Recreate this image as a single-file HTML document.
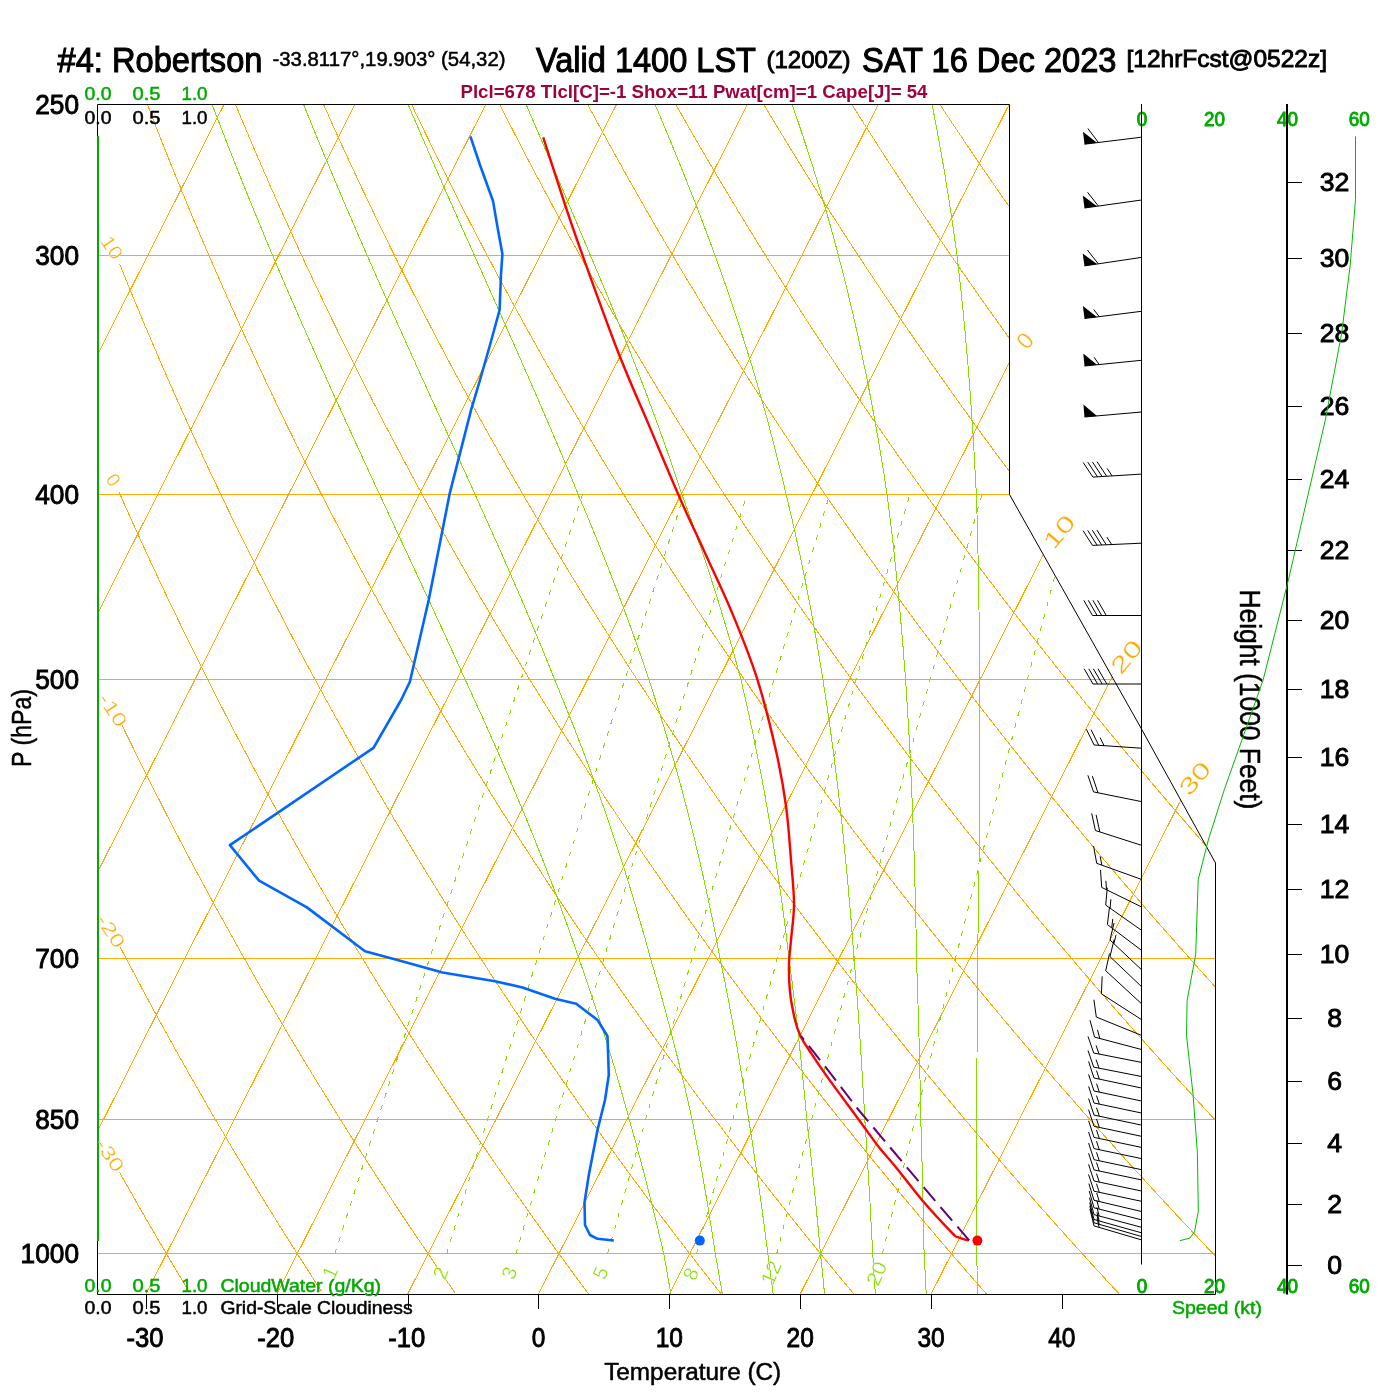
<!DOCTYPE html><html><head><meta charset="utf-8"><style>html,body{margin:0;padding:0;width:1400px;height:1400px;overflow:hidden;background:#fff}</style></head><body><svg width="1400" height="1400" viewBox="0 0 1400 1400" style="position:absolute;left:0;top:0;will-change:transform">
<defs><clipPath id="fc"><path d="M97.5 104.5 L1009.5 104.5 L1009.5 494.5 L1141.5 729 L1215.5 863 L1215.5 1294.5 L97.5 1294.5Z"/></clipPath></defs>
<rect width="1400" height="1400" fill="#fff"/>
<g clip-path="url(#fc)" fill="none" shape-rendering="crispEdges" stroke-width="1">
<path d="M97 255.5 H1300" stroke="#ffaa00"/>
<path d="M97 494.5 H1300" stroke="#ffaa00"/>
<path d="M97 679.5 H1300" stroke="#ffaa00"/>
<path d="M97 958.5 H1300" stroke="#ffaa00"/>
<path d="M97 1119.5 H1300" stroke="#ffaa00"/>
<path d="M97 1253.5 H1300" stroke="#ffaa00"/>
<path d="M-377.5 1294.5 L224 104.5 M-246.7 1294.5 L354.9 104.5 M-115.9 1294.5 L485.7 104.5 M15 1294.5 L616.5 104.5 M145.8 1294.5 L747.4 104.5 M276.7 1294.5 L878.2 104.5 M407.5 1294.5 L1009.1 104.5 M538.3 1294.5 L1139.9 104.5 M669.2 1294.5 L1270.7 104.5 M800 1294.5 L1401.6 104.5 M930.9 1294.5 L1532.4 104.5" stroke="#ffaa00"/>
<path d="M119.3 1171.9 L121.9 1176.5 L124.5 1181 L127 1185.5 L129.5 1190 L132.1 1194.5 L134.6 1198.9 L137.1 1203.3 L139.6 1207.7 L142.2 1212.1 L144.7 1216.4 L147.2 1220.8 L149.6 1225.1 L152.1 1229.3 L154.6 1233.6 L157.1 1237.8 L159.6 1242.1 L162 1246.2 L164.5 1250.4 L166.9 1254.6 L169.4 1258.7 L171.8 1262.8 L174.2 1266.9 L176.7 1271 L179.1 1275 L181.5 1279.1 L183.9 1283.1 L186.3 1287.1 L188.7 1291 M120.3 947.3 L123.4 953.2 L126.5 959.2 L129.6 965.1 L132.7 970.9 L135.8 976.7 L138.9 982.5 L141.9 988.2 L145 993.9 L148 999.6 L151.1 1005.2 L154.1 1010.8 L157.1 1016.3 L160.1 1021.8 L163.1 1027.3 L166.1 1032.7 L169.1 1038.1 L172.1 1043.5 L175 1048.8 L178 1054.1 L180.9 1059.3 L183.9 1064.6 L186.8 1069.7 L189.7 1074.9 L192.7 1080 L195.6 1085.1 L198.5 1090.2 L201.4 1095.2 L204.2 1100.2 L207.1 1105.2 L210 1110.2 L212.8 1115.1 L215.7 1120 L218.5 1124.8 L221.4 1129.6 L224.2 1134.4 L227 1139.2 L229.8 1144 L232.6 1148.7 L235.4 1153.4 L238.2 1158 L241 1162.7 L243.8 1167.3 L246.5 1171.9 L249.3 1176.5 L252.1 1181 L254.8 1185.5 L257.5 1190 L260.3 1194.5 L263 1198.9 L265.7 1203.3 L268.4 1207.7 L271.1 1212.1 L273.8 1216.4 L276.5 1220.8 L279.2 1225.1 L281.9 1229.3 L284.5 1233.6 L287.2 1237.8 L289.9 1242.1 L292.5 1246.2 L295.2 1250.4 L297.8 1254.6 L300.4 1258.7 L303.1 1262.8 L305.7 1266.9 L308.3 1271 L310.9 1275 L313.5 1279.1 L316.1 1283.1 L318.7 1287.1 L321.3 1291 M121.6 724.2 L125.3 732 L129.1 739.7 L132.9 747.4 L136.6 755 L140.3 762.5 L144 770 L147.7 777.4 L151.4 784.7 L155.1 792 L158.8 799.2 L162.4 806.3 L166 813.4 L169.6 820.4 L173.2 827.4 L176.8 834.3 L180.4 841.1 L184 847.9 L187.5 854.7 L191.1 861.4 L194.6 868 L198.1 874.6 L201.6 881.1 L205.1 887.6 L208.6 894 L212 900.4 L215.5 906.7 L218.9 913 L222.4 919.2 L225.8 925.4 L229.2 931.5 L232.6 937.6 L236 943.7 L239.3 949.7 L242.7 955.6 L246.1 961.5 L249.4 967.4 L252.7 973.2 L256 979 L259.3 984.8 L262.6 990.5 L265.9 996.2 L269.2 1001.8 L272.5 1007.4 L275.7 1013 L279 1018.5 L282.2 1024 L285.4 1029.4 L288.6 1034.9 L291.9 1040.2 L295 1045.6 L298.2 1050.9 L301.4 1056.2 L304.6 1061.4 L307.7 1066.6 L310.9 1071.8 L314 1077 L317.1 1082.1 L320.3 1087.2 L323.4 1092.2 L326.5 1097.2 L329.6 1102.2 L332.7 1107.2 L335.7 1112.1 L338.8 1117 L341.9 1121.9 L344.9 1126.8 L347.9 1131.6 L351 1136.4 L354 1141.1 L357 1145.9 L360 1150.6 L363 1155.2 L366 1159.9 L369 1164.5 L372 1169.1 L374.9 1173.7 L377.9 1178.3 L380.8 1182.8 L383.8 1187.3 L386.7 1191.8 L389.6 1196.2 L392.6 1200.7 L395.5 1205.1 L398.4 1209.5 L401.3 1213.8 L404.1 1218.2 L407 1222.5 L409.9 1226.8 L412.8 1231 L415.6 1235.3 L418.5 1239.5 L421.3 1243.7 L424.2 1247.9 L427 1252.1 L429.8 1256.2 L432.6 1260.4 L435.4 1264.5 L438.2 1268.5 L441 1272.6 L443.8 1276.6 L446.6 1280.7 L449.4 1284.7 L452.1 1288.7 L454.9 1292.6 M119 491.9 L119.9 494 L124.4 504.3 L129 514.4 L133.5 524.5 L138 534.4 L142.5 544.2 L147 553.9 L151.4 563.5 L155.9 573 L160.3 582.4 L164.6 591.6 L169 600.8 L173.4 609.8 L177.7 618.8 L182 627.7 L186.3 636.5 L190.5 645.1 L194.8 653.7 L199 662.2 L203.2 670.7 L207.4 679 L211.6 687.2 L215.8 695.4 L219.9 703.5 L224 711.5 L228.1 719.4 L232.2 727.3 L236.3 735.1 L240.3 742.8 L244.4 750.4 L248.4 758 L252.4 765.5 L256.4 773 L260.4 780.3 L264.3 787.6 L268.3 794.9 L272.2 802.1 L276.1 809.2 L280 816.2 L283.9 823.2 L287.8 830.2 L291.6 837 L295.5 843.9 L299.3 850.6 L303.1 857.4 L306.9 864 L310.7 870.6 L314.4 877.2 L318.2 883.7 L321.9 890.1 L325.7 896.5 L329.4 902.9 L333.1 909.2 L336.8 915.5 L340.4 921.7 L344.1 927.8 L347.7 934 L351.4 940 L355 946.1 L358.6 952 L362.2 958 L365.8 963.9 L369.4 969.8 L372.9 975.6 L376.5 981.3 L380 987.1 L383.5 992.8 L387.1 998.4 L390.6 1004.1 L394.1 1009.7 L397.5 1015.2 L401 1020.7 L404.5 1026.2 L407.9 1031.6 L411.4 1037 L414.8 1042.4 L418.2 1047.7 L421.6 1053 L425 1058.3 L428.4 1063.5 L431.8 1068.7 L435.1 1073.9 L438.5 1079 L441.8 1084.1 L445.1 1089.2 L448.5 1094.2 L451.8 1099.2 L455.1 1104.2 L458.4 1109.2 L461.7 1114.1 L464.9 1119 L468.2 1123.8 L471.4 1128.7 L474.7 1133.5 L477.9 1138.3 L481.1 1143 L484.4 1147.7 L487.6 1152.4 L490.8 1157.1 L494 1161.8 L497.1 1166.4 L500.3 1171 L503.5 1175.5 L506.6 1180.1 L509.8 1184.6 L512.9 1189.1 L516 1193.6 L519.2 1198 L522.3 1202.4 L525.4 1206.8 L528.5 1211.2 L531.5 1215.6 L534.6 1219.9 L537.7 1224.2 L540.8 1228.5 L543.8 1232.7 L546.9 1237 L549.9 1241.2 L552.9 1245.4 L555.9 1249.6 L559 1253.7 L562 1257.9 L565 1262 L567.9 1266.1 L570.9 1270.2 L573.9 1274.2 L576.9 1278.3 L579.8 1282.3 L582.8 1286.3 L585.7 1290.2 L588.7 1294.2 M119.5 263.7 L120.6 266.4 L121.7 269.1 L122.8 271.8 L123.9 274.5 L125 277.2 L126.1 279.9 L127.1 282.6 L128.2 285.3 L129.3 287.9 L130.4 290.6 L131.5 293.2 L132.6 295.9 L133.7 298.5 L134.8 301.1 L135.8 303.7 L136.9 306.3 L138 308.9 L139.1 311.5 L140.2 314.1 L141.2 316.7 L142.3 319.2 L143.4 321.8 L144.4 324.3 L145.5 326.9 L146.6 329.4 L147.7 331.9 L148.7 334.4 L149.8 336.9 L150.9 339.5 L151.9 341.9 L153 344.4 L154 346.9 L155.1 349.4 L156.2 351.8 L157.2 354.3 L158.3 356.8 L159.3 359.2 L160.4 361.6 L161.4 364.1 L162.5 366.5 L163.5 368.9 L164.6 371.3 L165.6 373.7 L166.7 376.1 L167.7 378.5 L168.8 380.9 L169.8 383.2 L170.9 385.6 L171.9 388 L172.9 390.3 L174 392.7 L175 395 L176.1 397.3 L177.1 399.7 L178.1 402 L179.2 404.3 L180.2 406.6 L181.2 408.9 L182.2 411.2 L183.3 413.5 L184.3 415.8 L185.3 418 L186.4 420.3 L187.4 422.6 L188.4 424.8 L189.4 427.1 L190.4 429.3 L191.5 431.5 L192.5 433.8 L193.5 436 L194.5 438.2 L195.5 440.4 L196.5 442.6 L197.6 444.9 L198.6 447 L199.6 449.2 L200.6 451.4 L201.6 453.6 L202.6 455.8 L203.6 457.9 L204.6 460.1 L205.6 462.3 L206.6 464.4 L207.6 466.6 L208.6 468.7 L209.6 470.8 L210.6 473 L211.6 475.1 L212.6 477.2 L213.6 479.3 L214.6 481.4 L215.6 483.5 L216.6 485.6 L217.6 487.7 L218.6 489.8 L219.6 491.9 L220.6 494 L225.5 504.3 L230.4 514.4 L235.3 524.5 L240.2 534.4 L245 544.2 L249.8 553.9 L254.6 563.5 L259.3 573 L264.1 582.4 L268.8 591.6 L273.5 600.8 L278.2 609.8 L282.8 618.8 L287.4 627.7 L292 636.5 L296.6 645.1 L301.2 653.7 L305.7 662.2 L310.2 670.7 L314.8 679 L319.2 687.2 L323.7 695.4 L328.1 703.5 L332.6 711.5 L337 719.4 L341.3 727.3 L345.7 735.1 L350.1 742.8 L354.4 750.4 L358.7 758 L363 765.5 L367.3 773 L371.5 780.3 L375.8 787.6 L380 794.9 L384.2 802.1 L388.4 809.2 L392.5 816.2 L396.7 823.2 L400.8 830.2 L405 837 L409.1 843.9 L413.1 850.6 L417.2 857.4 L421.3 864 L425.3 870.6 L429.3 877.2 L433.4 883.7 L437.4 890.1 L441.3 896.5 L445.3 902.9 L449.3 909.2 L453.2 915.5 L457.1 921.7 L461 927.8 L464.9 934 L468.8 940 L472.7 946.1 L476.5 952 L480.4 958 L484.2 963.9 L488 969.8 L491.8 975.6 L495.6 981.3 L499.4 987.1 L503.1 992.8 L506.9 998.4 L510.6 1004.1 L514.3 1009.7 L518.1 1015.2 L521.8 1020.7 L525.4 1026.2 L529.1 1031.6 L532.8 1037 L536.4 1042.4 L540.1 1047.7 L543.7 1053 L547.3 1058.3 L550.9 1063.5 L554.5 1068.7 L558.1 1073.9 L561.7 1079 L565.2 1084.1 L568.8 1089.2 L572.3 1094.2 L575.8 1099.2 L579.3 1104.2 L582.9 1109.2 L586.3 1114.1 L589.8 1119 L593.3 1123.8 L596.8 1128.7 L600.2 1133.5 L603.7 1138.3 L607.1 1143 L610.5 1147.7 L613.9 1152.4 L617.3 1157.1 L620.7 1161.8 L624.1 1166.4 L627.5 1171 L630.8 1175.5 L634.2 1180.1 L637.5 1184.6 L640.9 1189.1 L644.2 1193.6 L647.5 1198 L650.8 1202.4 L654.1 1206.8 L657.4 1211.2 L660.7 1215.6 L663.9 1219.9 L667.2 1224.2 L670.5 1228.5 L673.7 1232.7 L676.9 1237 L680.2 1241.2 L683.4 1245.4 L686.6 1249.6 L689.8 1253.7 L693 1257.9 L696.2 1262 L699.3 1266.1 L702.5 1270.2 L705.7 1274.2 L708.8 1278.3 L712 1282.3 L715.1 1286.3 L718.2 1290.2 L721.3 1294.2 M147.3 104.2 L148.6 107.5 L149.9 110.8 L151.1 114.1 L152.4 117.4 L153.7 120.6 L154.9 123.9 L156.2 127.1 L157.5 130.3 L158.7 133.6 L160 136.7 L161.2 139.9 L162.5 143.1 L163.7 146.3 L165 149.4 L166.2 152.5 L167.5 155.7 L168.7 158.8 L170 161.9 L171.2 165 L172.5 168 L173.7 171.1 L174.9 174.2 L176.2 177.2 L177.4 180.2 L178.6 183.3 L179.9 186.3 L181.1 189.3 L182.3 192.3 L183.6 195.2 L184.8 198.2 L186 201.2 L187.2 204.1 L188.4 207 L189.7 210 L190.9 212.9 L192.1 215.8 L193.3 218.7 L194.5 221.6 L195.7 224.4 L196.9 227.3 L198.1 230.2 L199.3 233 L200.5 235.8 L201.8 238.7 L203 241.5 L204.2 244.3 L205.3 247.1 L206.5 249.9 L207.7 252.6 L208.9 255.4 L210.1 258.2 L211.3 260.9 L212.5 263.7 L213.7 266.4 L214.9 269.1 L216.1 271.8 L217.2 274.5 L218.4 277.2 L219.6 279.9 L220.8 282.6 L222 285.3 L223.1 287.9 L224.3 290.6 L225.5 293.2 L226.7 295.9 L227.8 298.5 L229 301.1 L230.2 303.7 L231.3 306.3 L232.5 308.9 L233.6 311.5 L234.8 314.1 L236 316.7 L237.1 319.2 L238.3 321.8 L239.4 324.3 L240.6 326.9 L241.7 329.4 L242.9 331.9 L244 334.4 L245.2 336.9 L246.3 339.5 L247.5 341.9 L248.6 344.4 L249.8 346.9 L250.9 349.4 L252.1 351.8 L253.2 354.3 L254.3 356.8 L255.5 359.2 L256.6 361.6 L257.7 364.1 L258.9 366.5 L260 368.9 L261.1 371.3 L262.3 373.7 L263.4 376.1 L264.5 378.5 L265.6 380.9 L266.8 383.2 L267.9 385.6 L269 388 L270.1 390.3 L271.2 392.7 L272.3 395 L273.5 397.3 L274.6 399.7 L275.7 402 L276.8 404.3 L277.9 406.6 L279 408.9 L280.1 411.2 L281.2 413.5 L282.3 415.8 L283.4 418 L284.5 420.3 L285.6 422.6 L286.7 424.8 L287.8 427.1 L288.9 429.3 L290 431.5 L291.1 433.8 L292.2 436 L293.3 438.2 L294.4 440.4 L295.5 442.6 L296.6 444.9 L297.7 447 L298.8 449.2 L299.8 451.4 L300.9 453.6 L302 455.8 L303.1 457.9 L304.2 460.1 L305.2 462.3 L306.3 464.4 L307.4 466.6 L308.5 468.7 L309.5 470.8 L310.6 473 L311.7 475.1 L312.8 477.2 L313.8 479.3 L314.9 481.4 L316 483.5 L317 485.6 L318.1 487.7 L319.2 489.8 L320.2 491.9 L321.3 494 L326.6 504.3 L331.8 514.4 L337.1 524.5 L342.3 534.4 L347.4 544.2 L352.6 553.9 L357.7 563.5 L362.8 573 L367.9 582.4 L372.9 591.6 L378 600.8 L383 609.8 L387.9 618.8 L392.9 627.7 L397.8 636.5 L402.7 645.1 L407.6 653.7 L412.4 662.2 L417.3 670.7 L422.1 679 L426.9 687.2 L431.6 695.4 L436.4 703.5 L441.1 711.5 L445.8 719.4 L450.5 727.3 L455.1 735.1 L459.8 742.8 L464.4 750.4 L469 758 L473.6 765.5 L478.1 773 L482.7 780.3 L487.2 787.6 L491.7 794.9 L496.2 802.1 L500.6 809.2 L505.1 816.2 L509.5 823.2 L513.9 830.2 L518.3 837 L522.7 843.9 L527 850.6 L531.4 857.4 L535.7 864 L540 870.6 L544.3 877.2 L548.5 883.7 L552.8 890.1 L557 896.5 L561.3 902.9 L565.5 909.2 L569.6 915.5 L573.8 921.7 L578 927.8 L582.1 934 L586.2 940 L590.4 946.1 L594.5 952 L598.5 958 L602.6 963.9 L606.7 969.8 L610.7 975.6 L614.7 981.3 L618.7 987.1 L622.7 992.8 L626.7 998.4 L630.7 1004.1 L634.6 1009.7 L638.6 1015.2 L642.5 1020.7 L646.4 1026.2 L650.3 1031.6 L654.2 1037 L658.1 1042.4 L661.9 1047.7 L665.8 1053 L669.6 1058.3 L673.5 1063.5 L677.3 1068.7 L681.1 1073.9 L684.9 1079 L688.6 1084.1 L692.4 1089.2 L696.1 1094.2 L699.9 1099.2 L703.6 1104.2 L707.3 1109.2 L711 1114.1 L714.7 1119 L718.4 1123.8 L722.1 1128.7 L725.7 1133.5 L729.4 1138.3 L733 1143 L736.7 1147.7 L740.3 1152.4 L743.9 1157.1 L747.5 1161.8 L751.1 1166.4 L754.6 1171 L758.2 1175.5 L761.7 1180.1 L765.3 1184.6 L768.8 1189.1 L772.3 1193.6 L775.9 1198 L779.4 1202.4 L782.9 1206.8 L786.3 1211.2 L789.8 1215.6 L793.3 1219.9 L796.7 1224.2 L800.2 1228.5 L803.6 1232.7 L807 1237 L810.4 1241.2 L813.8 1245.4 L817.2 1249.6 L820.6 1253.7 L824 1257.9 L827.4 1262 L830.7 1266.1 L834.1 1270.2 L837.4 1274.2 L840.8 1278.3 L844.1 1282.3 L847.4 1286.3 L850.7 1290.2 L854 1294.2 M235.4 104.2 L236.8 107.5 L238.1 110.8 L239.5 114.1 L240.9 117.4 L242.2 120.6 L243.6 123.9 L245 127.1 L246.3 130.3 L247.7 133.6 L249 136.7 L250.4 139.9 L251.7 143.1 L253.1 146.3 L254.4 149.4 L255.8 152.5 L257.1 155.7 L258.5 158.8 L259.8 161.9 L261.1 165 L262.5 168 L263.8 171.1 L265.1 174.2 L266.5 177.2 L267.8 180.2 L269.1 183.3 L270.4 186.3 L271.8 189.3 L273.1 192.3 L274.4 195.2 L275.7 198.2 L277 201.2 L278.4 204.1 L279.7 207 L281 210 L282.3 212.9 L283.6 215.8 L284.9 218.7 L286.2 221.6 L287.5 224.4 L288.8 227.3 L290.1 230.2 L291.4 233 L292.7 235.8 L294 238.7 L295.3 241.5 L296.6 244.3 L297.8 247.1 L299.1 249.9 L300.4 252.6 L301.7 255.4 L303 258.2 L304.2 260.9 L305.5 263.7 L306.8 266.4 L308.1 269.1 L309.3 271.8 L310.6 274.5 L311.9 277.2 L313.1 279.9 L314.4 282.6 L315.7 285.3 L316.9 287.9 L318.2 290.6 L319.5 293.2 L320.7 295.9 L322 298.5 L323.2 301.1 L324.5 303.7 L325.7 306.3 L327 308.9 L328.2 311.5 L329.5 314.1 L330.7 316.7 L331.9 319.2 L333.2 321.8 L334.4 324.3 L335.7 326.9 L336.9 329.4 L338.1 331.9 L339.4 334.4 L340.6 336.9 L341.8 339.5 L343.1 341.9 L344.3 344.4 L345.5 346.9 L346.7 349.4 L347.9 351.8 L349.2 354.3 L350.4 356.8 L351.6 359.2 L352.8 361.6 L354 364.1 L355.2 366.5 L356.5 368.9 L357.7 371.3 L358.9 373.7 L360.1 376.1 L361.3 378.5 L362.5 380.9 L363.7 383.2 L364.9 385.6 L366.1 388 L367.3 390.3 L368.5 392.7 L369.7 395 L370.9 397.3 L372.1 399.7 L373.2 402 L374.4 404.3 L375.6 406.6 L376.8 408.9 L378 411.2 L379.2 413.5 L380.4 415.8 L381.5 418 L382.7 420.3 L383.9 422.6 L385.1 424.8 L386.2 427.1 L387.4 429.3 L388.6 431.5 L389.8 433.8 L390.9 436 L392.1 438.2 L393.3 440.4 L394.4 442.6 L395.6 444.9 L396.8 447 L397.9 449.2 L399.1 451.4 L400.2 453.6 L401.4 455.8 L402.5 457.9 L403.7 460.1 L404.9 462.3 L406 464.4 L407.2 466.6 L408.3 468.7 L409.5 470.8 L410.6 473 L411.7 475.1 L412.9 477.2 L414 479.3 L415.2 481.4 L416.3 483.5 L417.4 485.6 L418.6 487.7 L419.7 489.8 L420.9 491.9 L422 494 L427.6 504.3 L433.3 514.4 L438.8 524.5 L444.4 534.4 L449.9 544.2 L455.4 553.9 L460.9 563.5 L466.3 573 L471.7 582.4 L477.1 591.6 L482.4 600.8 L487.8 609.8 L493.1 618.8 L498.3 627.7 L503.6 636.5 L508.8 645.1 L514 653.7 L519.2 662.2 L524.3 670.7 L529.4 679 L534.5 687.2 L539.6 695.4 L544.6 703.5 L549.6 711.5 L554.6 719.4 L559.6 727.3 L564.6 735.1 L569.5 742.8 L574.4 750.4 L579.3 758 L584.2 765.5 L589 773 L593.8 780.3 L598.6 787.6 L603.4 794.9 L608.1 802.1 L612.9 809.2 L617.6 816.2 L622.3 823.2 L627 830.2 L631.6 837 L636.3 843.9 L640.9 850.6 L645.5 857.4 L650.1 864 L654.6 870.6 L659.2 877.2 L663.7 883.7 L668.2 890.1 L672.7 896.5 L677.2 902.9 L681.6 909.2 L686.1 915.5 L690.5 921.7 L694.9 927.8 L699.3 934 L703.7 940 L708 946.1 L712.4 952 L716.7 958 L721 963.9 L725.3 969.8 L729.6 975.6 L733.8 981.3 L738.1 987.1 L742.3 992.8 L746.5 998.4 L750.7 1004.1 L754.9 1009.7 L759.1 1015.2 L763.2 1020.7 L767.4 1026.2 L771.5 1031.6 L775.6 1037 L779.7 1042.4 L783.8 1047.7 L787.9 1053 L792 1058.3 L796 1063.5 L800 1068.7 L804 1073.9 L808.1 1079 L812 1084.1 L816 1089.2 L820 1094.2 L823.9 1099.2 L827.9 1104.2 L831.8 1109.2 L835.7 1114.1 L839.6 1119 L843.5 1123.8 L847.4 1128.7 L851.3 1133.5 L855.1 1138.3 L859 1143 L862.8 1147.7 L866.6 1152.4 L870.4 1157.1 L874.2 1161.8 L878 1166.4 L881.8 1171 L885.6 1175.5 L889.3 1180.1 L893 1184.6 L896.8 1189.1 L900.5 1193.6 L904.2 1198 L907.9 1202.4 L911.6 1206.8 L915.3 1211.2 L918.9 1215.6 L922.6 1219.9 L926.2 1224.2 L929.9 1228.5 L933.5 1232.7 L937.1 1237 L940.7 1241.2 L944.3 1245.4 L947.9 1249.6 L951.5 1253.7 L955 1257.9 L958.6 1262 L962.1 1266.1 L965.7 1270.2 L969.2 1274.2 L972.7 1278.3 L976.2 1282.3 L979.7 1286.3 L983.2 1290.2 L986.7 1294.2 M323.4 104.2 L324.9 107.5 L326.4 110.8 L327.9 114.1 L329.3 117.4 L330.8 120.6 L332.2 123.9 L333.7 127.1 L335.2 130.3 L336.6 133.6 L338.1 136.7 L339.5 139.9 L341 143.1 L342.4 146.3 L343.9 149.4 L345.3 152.5 L346.7 155.7 L348.2 158.8 L349.6 161.9 L351 165 L352.5 168 L353.9 171.1 L355.3 174.2 L356.8 177.2 L358.2 180.2 L359.6 183.3 L361 186.3 L362.4 189.3 L363.9 192.3 L365.3 195.2 L366.7 198.2 L368.1 201.2 L369.5 204.1 L370.9 207 L372.3 210 L373.7 212.9 L375.1 215.8 L376.5 218.7 L377.9 221.6 L379.3 224.4 L380.7 227.3 L382 230.2 L383.4 233 L384.8 235.8 L386.2 238.7 L387.6 241.5 L389 244.3 L390.3 247.1 L391.7 249.9 L393.1 252.6 L394.4 255.4 L395.8 258.2 L397.2 260.9 L398.5 263.7 L399.9 266.4 L401.3 269.1 L402.6 271.8 L404 274.5 L405.3 277.2 L406.7 279.9 L408 282.6 L409.4 285.3 L410.7 287.9 L412.1 290.6 L413.4 293.2 L414.8 295.9 L416.1 298.5 L417.4 301.1 L418.8 303.7 L420.1 306.3 L421.5 308.9 L422.8 311.5 L424.1 314.1 L425.4 316.7 L426.8 319.2 L428.1 321.8 L429.4 324.3 L430.7 326.9 L432.1 329.4 L433.4 331.9 L434.7 334.4 L436 336.9 L437.3 339.5 L438.6 341.9 L439.9 344.4 L441.2 346.9 L442.5 349.4 L443.8 351.8 L445.1 354.3 L446.4 356.8 L447.7 359.2 L449 361.6 L450.3 364.1 L451.6 366.5 L452.9 368.9 L454.2 371.3 L455.5 373.7 L456.8 376.1 L458.1 378.5 L459.3 380.9 L460.6 383.2 L461.9 385.6 L463.2 388 L464.5 390.3 L465.7 392.7 L467 395 L468.3 397.3 L469.5 399.7 L470.8 402 L472.1 404.3 L473.3 406.6 L474.6 408.9 L475.9 411.2 L477.1 413.5 L478.4 415.8 L479.6 418 L480.9 420.3 L482.2 422.6 L483.4 424.8 L484.7 427.1 L485.9 429.3 L487.2 431.5 L488.4 433.8 L489.6 436 L490.9 438.2 L492.1 440.4 L493.4 442.6 L494.6 444.9 L495.8 447 L497.1 449.2 L498.3 451.4 L499.5 453.6 L500.8 455.8 L502 457.9 L503.2 460.1 L504.5 462.3 L505.7 464.4 L506.9 466.6 L508.1 468.7 L509.4 470.8 L510.6 473 L511.8 475.1 L513 477.2 L514.2 479.3 L515.4 481.4 L516.7 483.5 L517.9 485.6 L519.1 487.7 L520.3 489.8 L521.5 491.9 L522.7 494 L528.7 504.3 L534.7 514.4 L540.6 524.5 L546.5 534.4 L552.4 544.2 L558.2 553.9 L564 563.5 L569.8 573 L575.5 582.4 L581.2 591.6 L586.9 600.8 L592.6 609.8 L598.2 618.8 L603.8 627.7 L609.4 636.5 L614.9 645.1 L620.4 653.7 L625.9 662.2 L631.3 670.7 L636.8 679 L642.2 687.2 L647.5 695.4 L652.9 703.5 L658.2 711.5 L663.5 719.4 L668.8 727.3 L674 735.1 L679.2 742.8 L684.4 750.4 L689.6 758 L694.7 765.5 L699.9 773 L705 780.3 L710 787.6 L715.1 794.9 L720.1 802.1 L725.1 809.2 L730.1 816.2 L735.1 823.2 L740.1 830.2 L745 837 L749.9 843.9 L754.8 850.6 L759.6 857.4 L764.5 864 L769.3 870.6 L774.1 877.2 L778.9 883.7 L783.7 890.1 L788.4 896.5 L793.1 902.9 L797.8 909.2 L802.5 915.5 L807.2 921.7 L811.9 927.8 L816.5 934 L821.1 940 L825.7 946.1 L830.3 952 L834.9 958 L839.4 963.9 L843.9 969.8 L848.5 975.6 L853 981.3 L857.4 987.1 L861.9 992.8 L866.4 998.4 L870.8 1004.1 L875.2 1009.7 L879.6 1015.2 L884 1020.7 L888.4 1026.2 L892.7 1031.6 L897.1 1037 L901.4 1042.4 L905.7 1047.7 L910 1053 L914.3 1058.3 L918.5 1063.5 L922.8 1068.7 L927 1073.9 L931.2 1079 L935.5 1084.1 L939.7 1089.2 L943.8 1094.2 L948 1099.2 L952.2 1104.2 L956.3 1109.2 L960.4 1114.1 L964.5 1119 L968.6 1123.8 L972.7 1128.7 L976.8 1133.5 L980.9 1138.3 L984.9 1143 L989 1147.7 L993 1152.4 L997 1157.1 L1001 1161.8 L1005 1166.4 L1009 1171 L1012.9 1175.5 L1016.9 1180.1 L1020.8 1184.6 L1024.7 1189.1 L1028.7 1193.6 L1032.6 1198 L1036.5 1202.4 L1040.3 1206.8 L1044.2 1211.2 L1048.1 1215.6 L1051.9 1219.9 L1055.8 1224.2 L1059.6 1228.5 L1063.4 1232.7 L1067.2 1237 L1071 1241.2 L1074.8 1245.4 L1078.5 1249.6 L1082.3 1253.7 L1086.1 1257.9 L1089.8 1262 L1093.5 1266.1 L1097.3 1270.2 L1101 1274.2 L1104.7 1278.3 L1108.4 1282.3 L1112 1286.3 L1115.7 1290.2 L1119.4 1294.2 M411.5 104.2 L413.1 107.5 L414.6 110.8 L416.2 114.1 L417.8 117.4 L419.3 120.6 L420.9 123.9 L422.5 127.1 L424 130.3 L425.6 133.6 L427.1 136.7 L428.7 139.9 L430.2 143.1 L431.7 146.3 L433.3 149.4 L434.8 152.5 L436.4 155.7 L437.9 158.8 L439.4 161.9 L441 165 L442.5 168 L444 171.1 L445.5 174.2 L447.1 177.2 L448.6 180.2 L450.1 183.3 L451.6 186.3 L453.1 189.3 L454.6 192.3 L456.1 195.2 L457.6 198.2 L459.1 201.2 L460.6 204.1 L462.1 207 L463.6 210 L465.1 212.9 L466.6 215.8 L468.1 218.7 L469.6 221.6 L471 224.4 L472.5 227.3 L474 230.2 L475.5 233 L477 235.8 L478.4 238.7 L479.9 241.5 L481.4 244.3 L482.8 247.1 L484.3 249.9 L485.7 252.6 L487.2 255.4 L488.7 258.2 L490.1 260.9 L491.6 263.7 L493 266.4 L494.5 269.1 L495.9 271.8 L497.4 274.5 L498.8 277.2 L500.2 279.9 L501.7 282.6 L503.1 285.3 L504.5 287.9 L506 290.6 L507.4 293.2 L508.8 295.9 L510.3 298.5 L511.7 301.1 L513.1 303.7 L514.5 306.3 L515.9 308.9 L517.4 311.5 L518.8 314.1 L520.2 316.7 L521.6 319.2 L523 321.8 L524.4 324.3 L525.8 326.9 L527.2 329.4 L528.6 331.9 L530 334.4 L531.4 336.9 L532.8 339.5 L534.2 341.9 L535.6 344.4 L537 346.9 L538.3 349.4 L539.7 351.8 L541.1 354.3 L542.5 356.8 L543.9 359.2 L545.2 361.6 L546.6 364.1 L548 366.5 L549.4 368.9 L550.7 371.3 L552.1 373.7 L553.5 376.1 L554.8 378.5 L556.2 380.9 L557.6 383.2 L558.9 385.6 L560.3 388 L561.6 390.3 L563 392.7 L564.3 395 L565.7 397.3 L567 399.7 L568.4 402 L569.7 404.3 L571.1 406.6 L572.4 408.9 L573.7 411.2 L575.1 413.5 L576.4 415.8 L577.7 418 L579.1 420.3 L580.4 422.6 L581.7 424.8 L583.1 427.1 L584.4 429.3 L585.7 431.5 L587 433.8 L588.4 436 L589.7 438.2 L591 440.4 L592.3 442.6 L593.6 444.9 L594.9 447 L596.2 449.2 L597.6 451.4 L598.9 453.6 L600.2 455.8 L601.5 457.9 L602.8 460.1 L604.1 462.3 L605.4 464.4 L606.7 466.6 L608 468.7 L609.3 470.8 L610.6 473 L611.8 475.1 L613.1 477.2 L614.4 479.3 L615.7 481.4 L617 483.5 L618.3 485.6 L619.6 487.7 L620.8 489.8 L622.1 491.9 L623.4 494 L629.8 504.3 L636.1 514.4 L642.4 524.5 L648.6 534.4 L654.8 544.2 L661 553.9 L667.2 563.5 L673.3 573 L679.4 582.4 L685.4 591.6 L691.4 600.8 L697.4 609.8 L703.3 618.8 L709.2 627.7 L715.1 636.5 L721 645.1 L726.8 653.7 L732.6 662.2 L738.4 670.7 L744.1 679 L749.8 687.2 L755.5 695.4 L761.1 703.5 L766.7 711.5 L772.3 719.4 L777.9 727.3 L783.4 735.1 L788.9 742.8 L794.4 750.4 L799.9 758 L805.3 765.5 L810.7 773 L816.1 780.3 L821.5 787.6 L826.8 794.9 L832.1 802.1 L837.4 809.2 L842.7 816.2 L847.9 823.2 L853.1 830.2 L858.3 837 L863.5 843.9 L868.6 850.6 L873.8 857.4 L878.9 864 L884 870.6 L889 877.2 L894.1 883.7 L899.1 890.1 L904.1 896.5 L909.1 902.9 L914 909.2 L919 915.5 L923.9 921.7 L928.8 927.8 L933.7 934 L938.6 940 L943.4 946.1 L948.2 952 L953 958 L957.8 963.9 L962.6 969.8 L967.3 975.6 L972.1 981.3 L976.8 987.1 L981.5 992.8 L986.2 998.4 L990.8 1004.1 L995.5 1009.7 L1000.1 1015.2 L1004.7 1020.7 L1009.3 1026.2 L1013.9 1031.6 L1018.5 1037 L1023 1042.4 L1027.6 1047.7 L1032.1 1053 L1036.6 1058.3 L1041.1 1063.5 L1045.5 1068.7 L1050 1073.9 L1054.4 1079 L1058.9 1084.1 L1063.3 1089.2 L1067.7 1094.2 L1072.1 1099.2 L1076.4 1104.2 L1080.8 1109.2 L1085.1 1114.1 L1089.4 1119 L1093.8 1123.8 L1098.1 1128.7 L1102.3 1133.5 L1106.6 1138.3 L1110.9 1143 L1115.1 1147.7 L1119.3 1152.4 L1123.5 1157.1 L1127.7 1161.8 L1131.9 1166.4 L1136.1 1171 L1140.3 1175.5 L1144.4 1180.1 L1148.6 1184.6 L1152.7 1189.1 L1156.8 1193.6 L1160.9 1198 L1165 1202.4 L1169.1 1206.8 L1173.1 1211.2 L1177.2 1215.6 L1181.2 1219.9 L1185.3 1224.2 L1189.3 1228.5 L1193.3 1232.7 L1197.3 1237 L1201.3 1241.2 L1205.2 1245.4 L1209.2 1249.6 L1213.2 1253.7 L1217.1 1257.9 L1221 1262 L1224.9 1266.1 L1228.8 1270.2 L1232.7 1274.2 L1236.6 1278.3 L1240.5 1282.3 L1244.4 1286.3 L1248.2 1290.2 L1252 1294.2 M499.5 104.2 L501.2 107.5 L502.9 110.8 L504.6 114.1 L506.2 117.4 L507.9 120.6 L509.5 123.9 L511.2 127.1 L512.9 130.3 L514.5 133.6 L516.2 136.7 L517.8 139.9 L519.4 143.1 L521.1 146.3 L522.7 149.4 L524.4 152.5 L526 155.7 L527.6 158.8 L529.2 161.9 L530.9 165 L532.5 168 L534.1 171.1 L535.7 174.2 L537.3 177.2 L539 180.2 L540.6 183.3 L542.2 186.3 L543.8 189.3 L545.4 192.3 L547 195.2 L548.6 198.2 L550.2 201.2 L551.8 204.1 L553.3 207 L554.9 210 L556.5 212.9 L558.1 215.8 L559.7 218.7 L561.2 221.6 L562.8 224.4 L564.4 227.3 L566 230.2 L567.5 233 L569.1 235.8 L570.6 238.7 L572.2 241.5 L573.8 244.3 L575.3 247.1 L576.9 249.9 L578.4 252.6 L580 255.4 L581.5 258.2 L583.1 260.9 L584.6 263.7 L586.1 266.4 L587.7 269.1 L589.2 271.8 L590.7 274.5 L592.3 277.2 L593.8 279.9 L595.3 282.6 L596.8 285.3 L598.3 287.9 L599.9 290.6 L601.4 293.2 L602.9 295.9 L604.4 298.5 L605.9 301.1 L607.4 303.7 L608.9 306.3 L610.4 308.9 L611.9 311.5 L613.4 314.1 L614.9 316.7 L616.4 319.2 L617.9 321.8 L619.4 324.3 L620.9 326.9 L622.4 329.4 L623.8 331.9 L625.3 334.4 L626.8 336.9 L628.3 339.5 L629.7 341.9 L631.2 344.4 L632.7 346.9 L634.2 349.4 L635.6 351.8 L637.1 354.3 L638.5 356.8 L640 359.2 L641.5 361.6 L642.9 364.1 L644.4 366.5 L645.8 368.9 L647.3 371.3 L648.7 373.7 L650.2 376.1 L651.6 378.5 L653.1 380.9 L654.5 383.2 L655.9 385.6 L657.4 388 L658.8 390.3 L660.2 392.7 L661.7 395 L663.1 397.3 L664.5 399.7 L665.9 402 L667.4 404.3 L668.8 406.6 L670.2 408.9 L671.6 411.2 L673 413.5 L674.4 415.8 L675.9 418 L677.3 420.3 L678.7 422.6 L680.1 424.8 L681.5 427.1 L682.9 429.3 L684.3 431.5 L685.7 433.8 L687.1 436 L688.5 438.2 L689.9 440.4 L691.2 442.6 L692.6 444.9 L694 447 L695.4 449.2 L696.8 451.4 L698.2 453.6 L699.6 455.8 L700.9 457.9 L702.3 460.1 L703.7 462.3 L705.1 464.4 L706.4 466.6 L707.8 468.7 L709.2 470.8 L710.5 473 L711.9 475.1 L713.3 477.2 L714.6 479.3 L716 481.4 L717.3 483.5 L718.7 485.6 L720 487.7 L721.4 489.8 L722.8 491.9 L724.1 494 L730.8 504.3 L737.5 514.4 L744.1 524.5 L750.7 534.4 L757.3 544.2 L763.8 553.9 L770.3 563.5 L776.8 573 L783.2 582.4 L789.5 591.6 L795.9 600.8 L802.2 609.8 L808.5 618.8 L814.7 627.7 L820.9 636.5 L827.1 645.1 L833.2 653.7 L839.3 662.2 L845.4 670.7 L851.4 679 L857.4 687.2 L863.4 695.4 L869.4 703.5 L875.3 711.5 L881.2 719.4 L887 727.3 L892.9 735.1 L898.7 742.8 L904.4 750.4 L910.2 758 L915.9 765.5 L921.6 773 L927.3 780.3 L932.9 787.6 L938.5 794.9 L944.1 802.1 L949.7 809.2 L955.2 816.2 L960.7 823.2 L966.2 830.2 L971.7 837 L977.1 843.9 L982.5 850.6 L987.9 857.4 L993.3 864 L998.6 870.6 L1003.9 877.2 L1009.2 883.7 L1014.5 890.1 L1019.8 896.5 L1025 902.9 L1030.2 909.2 L1035.4 915.5 L1040.6 921.7 L1045.7 927.8 L1050.9 934 L1056 940 L1061.1 946.1 L1066.1 952 L1071.2 958 L1076.2 963.9 L1081.2 969.8 L1086.2 975.6 L1091.2 981.3 L1096.1 987.1 L1101.1 992.8 L1106 998.4 L1110.9 1004.1 L1115.8 1009.7 L1120.6 1015.2 L1125.5 1020.7 L1130.3 1026.2 L1135.1 1031.6 L1139.9 1037 L1144.7 1042.4 L1149.4 1047.7 L1154.2 1053 L1158.9 1058.3 L1163.6 1063.5 L1168.3 1068.7 L1173 1073.9 L1177.6 1079 L1182.3 1084.1 L1186.9 1089.2 L1191.5 1094.2 L1196.1 1099.2 L1200.7 1104.2 L1205.3 1109.2 L1209.8 1114.1 L1214.3 1119 L1218.9 1123.8 L1223.4 1128.7 L1227.9 1133.5 L1232.3 1138.3 L1236.8 1143 L1241.2 1147.7 L1245.7 1152.4 L1250.1 1157.1 L1254.5 1161.8 L1258.9 1166.4 L1263.3 1171 L1267.6 1175.5 L1272 1180.1 L1276.3 1184.6 L1280.7 1189.1 L1285 1193.6 L1289.3 1198 L1293.5 1202.4 L1297.8 1206.8 L1302.1 1211.2 L1306.3 1215.6 L1310.6 1219.9 L1314.8 1224.2 L1319 1228.5 L1323.2 1232.7 L1327.4 1237 L1331.5 1241.2 L1335.7 1245.4 L1339.9 1249.6 L1344 1253.7 L1348.1 1257.9 L1352.2 1262 L1356.3 1266.1 L1360.4 1270.2 L1364.5 1274.2 L1368.6 1278.3 L1372.6 1282.3 L1376.7 1286.3 L1380.7 1290.2 L1384.7 1294.2 M587.6 104.2 L589.4 107.5 L591.1 110.8 L592.9 114.1 L594.7 117.4 L596.4 120.6 L598.2 123.9 L599.9 127.1 L601.7 130.3 L603.5 133.6 L605.2 136.7 L606.9 139.9 L608.7 143.1 L610.4 146.3 L612.2 149.4 L613.9 152.5 L615.6 155.7 L617.3 158.8 L619.1 161.9 L620.8 165 L622.5 168 L624.2 171.1 L625.9 174.2 L627.6 177.2 L629.3 180.2 L631 183.3 L632.7 186.3 L634.4 189.3 L636.1 192.3 L637.8 195.2 L639.5 198.2 L641.2 201.2 L642.9 204.1 L644.6 207 L646.2 210 L647.9 212.9 L649.6 215.8 L651.3 218.7 L652.9 221.6 L654.6 224.4 L656.3 227.3 L657.9 230.2 L659.6 233 L661.2 235.8 L662.9 238.7 L664.5 241.5 L666.2 244.3 L667.8 247.1 L669.5 249.9 L671.1 252.6 L672.7 255.4 L674.4 258.2 L676 260.9 L677.6 263.7 L679.2 266.4 L680.9 269.1 L682.5 271.8 L684.1 274.5 L685.7 277.2 L687.3 279.9 L688.9 282.6 L690.5 285.3 L692.2 287.9 L693.8 290.6 L695.4 293.2 L697 295.9 L698.5 298.5 L700.1 301.1 L701.7 303.7 L703.3 306.3 L704.9 308.9 L706.5 311.5 L708.1 314.1 L709.7 316.7 L711.2 319.2 L712.8 321.8 L714.4 324.3 L715.9 326.9 L717.5 329.4 L719.1 331.9 L720.6 334.4 L722.2 336.9 L723.8 339.5 L725.3 341.9 L726.9 344.4 L728.4 346.9 L730 349.4 L731.5 351.8 L733.1 354.3 L734.6 356.8 L736.1 359.2 L737.7 361.6 L739.2 364.1 L740.8 366.5 L742.3 368.9 L743.8 371.3 L745.3 373.7 L746.9 376.1 L748.4 378.5 L749.9 380.9 L751.4 383.2 L752.9 385.6 L754.5 388 L756 390.3 L757.5 392.7 L759 395 L760.5 397.3 L762 399.7 L763.5 402 L765 404.3 L766.5 406.6 L768 408.9 L769.5 411.2 L771 413.5 L772.5 415.8 L774 418 L775.4 420.3 L776.9 422.6 L778.4 424.8 L779.9 427.1 L781.4 429.3 L782.8 431.5 L784.3 433.8 L785.8 436 L787.3 438.2 L788.7 440.4 L790.2 442.6 L791.7 444.9 L793.1 447 L794.6 449.2 L796 451.4 L797.5 453.6 L798.9 455.8 L800.4 457.9 L801.8 460.1 L803.3 462.3 L804.7 464.4 L806.2 466.6 L807.6 468.7 L809.1 470.8 L810.5 473 L811.9 475.1 L813.4 477.2 L814.8 479.3 L816.3 481.4 L817.7 483.5 L819.1 485.6 L820.5 487.7 L822 489.8 L823.4 491.9 L824.8 494 L831.9 504.3 L838.9 514.4 L845.9 524.5 L852.9 534.4 L859.8 544.2 L866.6 553.9 L873.5 563.5 L880.2 573 L887 582.4 L893.7 591.6 L900.4 600.8 L907 609.8 L913.6 618.8 L920.2 627.7 L926.7 636.5 L933.2 645.1 L939.6 653.7 L946 662.2 L952.4 670.7 L958.8 679 L965.1 687.2 L971.4 695.4 L977.6 703.5 L983.8 711.5 L990 719.4 L996.2 727.3 L1002.3 735.1 L1008.4 742.8 L1014.4 750.4 L1020.5 758 L1026.5 765.5 L1032.5 773 L1038.4 780.3 L1044.3 787.6 L1050.2 794.9 L1056.1 802.1 L1061.9 809.2 L1067.7 816.2 L1073.5 823.2 L1079.3 830.2 L1085 837 L1090.7 843.9 L1096.4 850.6 L1102 857.4 L1107.7 864 L1113.3 870.6 L1118.9 877.2 L1124.4 883.7 L1130 890.1 L1135.5 896.5 L1141 902.9 L1146.4 909.2 L1151.9 915.5 L1157.3 921.7 L1162.7 927.8 L1168.1 934 L1173.4 940 L1178.8 946.1 L1184.1 952 L1189.4 958 L1194.6 963.9 L1199.9 969.8 L1205.1 975.6 L1210.3 981.3 L1215.5 987.1 L1220.7 992.8 L1225.8 998.4 L1231 1004.1 L1236.1 1009.7 L1241.2 1015.2 L1246.2 1020.7 L1251.3 1026.2 L1256.3 1031.6 L1261.3 1037 L1266.3 1042.4 L1271.3 1047.7 L1276.3 1053 L1281.2 1058.3 L1286.2 1063.5 L1291.1 1068.7 L1296 1073.9 L1300.8 1079 L1305.7 1084.1 L1310.5 1089.2 L1315.4 1094.2 L1320.2 1099.2 L1325 1104.2 L1329.7 1109.2 L1334.5 1114.1 L1339.3 1119 L1344 1123.8 L1348.7 1128.7 L1353.4 1133.5 L1358.1 1138.3 L1362.7 1143 L1367.4 1147.7 L1372 1152.4 L1376.7 1157.1 L1381.3 1161.8 L1385.9 1166.4 L1390.4 1171 L1395 1175.5 L1399.6 1180.1 L1404.1 1184.6 L1408.6 1189.1 L1413.1 1193.6 L1417.6 1198 L1422.1 1202.4 L1426.6 1206.8 L1431 1211.2 L1435.5 1215.6 L1439.9 1219.9 L1444.3 1224.2 L1448.7 1228.5 L1453.1 1232.7 L1457.5 1237 L1461.8 1241.2 L1466.2 1245.4 L1470.5 1249.6 L1474.8 1253.7 L1479.1 1257.9 L1483.4 1262 L1487.7 1266.1 L1492 1270.2 L1496.3 1274.2 L1500.5 1278.3 L1504.8 1282.3 L1509 1286.3 L1513.2 1290.2 L1517.4 1294.2 M675.6 104.2 L677.5 107.5 L679.4 110.8 L681.3 114.1 L683.1 117.4 L685 120.6 L686.8 123.9 L688.7 127.1 L690.5 130.3 L692.4 133.6 L694.2 136.7 L696.1 139.9 L697.9 143.1 L699.8 146.3 L701.6 149.4 L703.4 152.5 L705.2 155.7 L707.1 158.8 L708.9 161.9 L710.7 165 L712.5 168 L714.3 171.1 L716.1 174.2 L717.9 177.2 L719.7 180.2 L721.5 183.3 L723.3 186.3 L725.1 189.3 L726.9 192.3 L728.7 195.2 L730.5 198.2 L732.2 201.2 L734 204.1 L735.8 207 L737.6 210 L739.3 212.9 L741.1 215.8 L742.9 218.7 L744.6 221.6 L746.4 224.4 L748.1 227.3 L749.9 230.2 L751.6 233 L753.4 235.8 L755.1 238.7 L756.8 241.5 L758.6 244.3 L760.3 247.1 L762 249.9 L763.8 252.6 L765.5 255.4 L767.2 258.2 L768.9 260.9 L770.6 263.7 L772.4 266.4 L774.1 269.1 L775.8 271.8 L777.5 274.5 L779.2 277.2 L780.9 279.9 L782.6 282.6 L784.3 285.3 L786 287.9 L787.6 290.6 L789.3 293.2 L791 295.9 L792.7 298.5 L794.4 301.1 L796 303.7 L797.7 306.3 L799.4 308.9 L801.1 311.5 L802.7 314.1 L804.4 316.7 L806 319.2 L807.7 321.8 L809.4 324.3 L811 326.9 L812.7 329.4 L814.3 331.9 L816 334.4 L817.6 336.9 L819.2 339.5 L820.9 341.9 L822.5 344.4 L824.1 346.9 L825.8 349.4 L827.4 351.8 L829 354.3 L830.7 356.8 L832.3 359.2 L833.9 361.6 L835.5 364.1 L837.1 366.5 L838.7 368.9 L840.3 371.3 L842 373.7 L843.6 376.1 L845.2 378.5 L846.8 380.9 L848.4 383.2 L850 385.6 L851.6 388 L853.1 390.3 L854.7 392.7 L856.3 395 L857.9 397.3 L859.5 399.7 L861.1 402 L862.6 404.3 L864.2 406.6 L865.8 408.9 L867.4 411.2 L868.9 413.5 L870.5 415.8 L872.1 418 L873.6 420.3 L875.2 422.6 L876.7 424.8 L878.3 427.1 L879.9 429.3 L881.4 431.5 L883 433.8 L884.5 436 L886 438.2 L887.6 440.4 L889.1 442.6 L890.7 444.9 L892.2 447 L893.7 449.2 L895.3 451.4 L896.8 453.6 L898.3 455.8 L899.9 457.9 L901.4 460.1 L902.9 462.3 L904.4 464.4 L905.9 466.6 L907.5 468.7 L909 470.8 L910.5 473 L912 475.1 L913.5 477.2 L915 479.3 L916.5 481.4 L918 483.5 L919.5 485.6 L921 487.7 L922.5 489.8 L924 491.9 L925.5 494 L932.9 504.3 L940.3 514.4 L947.7 524.5 L955 534.4 L962.2 544.2 L969.4 553.9 L976.6 563.5 L983.7 573 L990.8 582.4 L997.9 591.6 L1004.8 600.8 L1011.8 609.8 L1018.7 618.8 L1025.6 627.7 L1032.4 636.5 L1039.2 645.1 L1046 653.7 L1052.7 662.2 L1059.4 670.7 L1066.1 679 L1072.7 687.2 L1079.3 695.4 L1085.8 703.5 L1092.4 711.5 L1098.8 719.4 L1105.3 727.3 L1111.7 735.1 L1118.1 742.8 L1124.4 750.4 L1130.8 758 L1137.1 765.5 L1143.3 773 L1149.6 780.3 L1155.8 787.6 L1161.9 794.9 L1168.1 802.1 L1174.2 809.2 L1180.3 816.2 L1186.3 823.2 L1192.3 830.2 L1198.3 837 L1204.3 843.9 L1210.3 850.6 L1216.2 857.4 L1222.1 864 L1227.9 870.6 L1233.8 877.2 L1239.6 883.7 L1245.4 890.1 L1251.2 896.5 L1256.9 902.9 L1262.6 909.2 L1268.3 915.5 L1274 921.7 L1279.6 927.8 L1285.3 934 L1290.9 940 L1296.4 946.1 L1302 952 L1307.5 958 L1313 963.9 L1318.5 969.8 L1324 975.6 L1329.4 981.3 L1334.9 987.1 L1340.3 992.8 L1345.6 998.4 L1351 1004.1 L1356.4 1009.7 L1361.7 1015.2 L1367 1020.7 L1372.3 1026.2 L1377.5 1031.6 L1382.8 1037 L1388 1042.4 L1393.2 1047.7 L1398.4 1053 L1403.5 1058.3 L1408.7 1063.5 L1413.8 1068.7 L1418.9 1073.9 L1424 1079 L1429.1 1084.1 L1434.2 1089.2 L1439.2 1094.2 L1444.2 1099.2 L1449.2 1104.2 L1454.2 1109.2 L1459.2 1114.1 L1464.2 1119 L1469.1 1123.8 L1474 1128.7 L1478.9 1133.5 L1483.8 1138.3 L1488.7 1143 L1493.5 1147.7 L1498.4 1152.4 L1503.2 1157.1 L1508 1161.8 L1512.8 1166.4 L1517.6 1171 L1522.4 1175.5 L1527.1 1180.1 L1531.8 1184.6 L1536.6 1189.1 L1541.3 1193.6 L1546 1198 L1550.6 1202.4 L1555.3 1206.8 L1560 1211.2 L1564.6 1215.6 L1569.2 1219.9 L1573.8 1224.2 L1578.4 1228.5 L1583 1232.7 L1587.5 1237 L1592.1 1241.2 L1596.6 1245.4 L1601.2 1249.6 L1605.7 1253.7 L1610.2 1257.9 L1614.7 1262 L1619.1 1266.1 L1623.6 1270.2 L1628 1274.2 L1632.5 1278.3 L1636.9 1282.3 L1641.3 1286.3 L1645.7 1290.2 L1650.1 1294.2 M763.7 104.2 L765.7 107.5 L767.6 110.8 L769.6 114.1 L771.6 117.4 L773.5 120.6 L775.5 123.9 L777.4 127.1 L779.4 130.3 L781.3 133.6 L783.3 136.7 L785.2 139.9 L787.2 143.1 L789.1 146.3 L791 149.4 L792.9 152.5 L794.9 155.7 L796.8 158.8 L798.7 161.9 L800.6 165 L802.5 168 L804.4 171.1 L806.3 174.2 L808.2 177.2 L810.1 180.2 L812 183.3 L813.9 186.3 L815.8 189.3 L817.7 192.3 L819.5 195.2 L821.4 198.2 L823.3 201.2 L825.2 204.1 L827 207 L828.9 210 L830.7 212.9 L832.6 215.8 L834.4 218.7 L836.3 221.6 L838.1 224.4 L840 227.3 L841.8 230.2 L843.7 233 L845.5 235.8 L847.3 238.7 L849.2 241.5 L851 244.3 L852.8 247.1 L854.6 249.9 L856.4 252.6 L858.2 255.4 L860.1 258.2 L861.9 260.9 L863.7 263.7 L865.5 266.4 L867.3 269.1 L869.1 271.8 L870.8 274.5 L872.6 277.2 L874.4 279.9 L876.2 282.6 L878 285.3 L879.8 287.9 L881.5 290.6 L883.3 293.2 L885.1 295.9 L886.8 298.5 L888.6 301.1 L890.4 303.7 L892.1 306.3 L893.9 308.9 L895.6 311.5 L897.4 314.1 L899.1 316.7 L900.9 319.2 L902.6 321.8 L904.3 324.3 L906.1 326.9 L907.8 329.4 L909.5 331.9 L911.3 334.4 L913 336.9 L914.7 339.5 L916.4 341.9 L918.2 344.4 L919.9 346.9 L921.6 349.4 L923.3 351.8 L925 354.3 L926.7 356.8 L928.4 359.2 L930.1 361.6 L931.8 364.1 L933.5 366.5 L935.2 368.9 L936.9 371.3 L938.6 373.7 L940.3 376.1 L941.9 378.5 L943.6 380.9 L945.3 383.2 L947 385.6 L948.6 388 L950.3 390.3 L952 392.7 L953.6 395 L955.3 397.3 L957 399.7 L958.6 402 L960.3 404.3 L961.9 406.6 L963.6 408.9 L965.2 411.2 L966.9 413.5 L968.5 415.8 L970.2 418 L971.8 420.3 L973.4 422.6 L975.1 424.8 L976.7 427.1 L978.3 429.3 L980 431.5 L981.6 433.8 L983.2 436 L984.8 438.2 L986.5 440.4 L988.1 442.6 L989.7 444.9 L991.3 447 L992.9 449.2 L994.5 451.4 L996.1 453.6 L997.7 455.8 L999.3 457.9 L1000.9 460.1 L1002.5 462.3 L1004.1 464.4 L1005.7 466.6 L1007.3 468.7 L1008.9 470.8 L1010.5 473 L1012.1 475.1 L1013.6 477.2 L1015.2 479.3 L1016.8 481.4 L1018.4 483.5 L1019.9 485.6 L1021.5 487.7 L1023.1 489.8 L1024.6 491.9 L1026.2 494 L1034 504.3 L1041.8 514.4 L1049.5 524.5 L1057.1 534.4 L1064.7 544.2 L1072.2 553.9 L1079.8 563.5 L1087.2 573 L1094.6 582.4 L1102 591.6 L1109.3 600.8 L1116.6 609.8 L1123.9 618.8 L1131.1 627.7 L1138.2 636.5 L1145.3 645.1 L1152.4 653.7 L1159.5 662.2 L1166.5 670.7 L1173.4 679 L1180.3 687.2 L1187.2 695.4 L1194.1 703.5 L1200.9 711.5 L1207.7 719.4 L1214.4 727.3 L1221.1 735.1 L1227.8 742.8 L1234.5 750.4 L1241.1 758 L1247.6 765.5 L1254.2 773 L1260.7 780.3 L1267.2 787.6 L1273.6 794.9 L1280 802.1 L1286.4 809.2 L1292.8 816.2 L1299.1 823.2 L1305.4 830.2 L1311.7 837 L1317.9 843.9 L1324.1 850.6 L1330.3 857.4 L1336.5 864 L1342.6 870.6 L1348.7 877.2 L1354.8 883.7 L1360.8 890.1 L1366.8 896.5 L1372.8 902.9 L1378.8 909.2 L1384.8 915.5 L1390.7 921.7 L1396.6 927.8 L1402.4 934 L1408.3 940 L1414.1 946.1 L1419.9 952 L1425.7 958 L1431.4 963.9 L1437.2 969.8 L1442.9 975.6 L1448.6 981.3 L1454.2 987.1 L1459.9 992.8 L1465.5 998.4 L1471.1 1004.1 L1476.6 1009.7 L1482.2 1015.2 L1487.7 1020.7 L1493.2 1026.2 L1498.7 1031.6 L1504.2 1037 L1509.6 1042.4 L1515.1 1047.7 L1520.5 1053 L1525.9 1058.3 L1531.2 1063.5 L1536.6 1068.7 L1541.9 1073.9 L1547.2 1079 L1552.5 1084.1 L1557.8 1089.2 L1563 1094.2 L1568.3 1099.2 L1573.5 1104.2 L1578.7 1109.2 L1583.9 1114.1 L1589.1 1119 L1594.2 1123.8 L1599.3 1128.7 L1604.5 1133.5 L1609.5 1138.3 L1614.6 1143 L1619.7 1147.7 L1624.7 1152.4 L1629.8 1157.1 L1634.8 1161.8 L1639.8 1166.4 L1644.8 1171 L1649.7 1175.5 L1654.7 1180.1 L1659.6 1184.6 L1664.5 1189.1 L1669.4 1193.6 L1674.3 1198 L1679.2 1202.4 L1684 1206.8 L1688.9 1211.2 L1693.7 1215.6 L1698.5 1219.9 L1703.3 1224.2 L1708.1 1228.5 L1712.9 1232.7 L1717.6 1237 L1722.4 1241.2 L1727.1 1245.4 L1731.8 1249.6 L1736.5 1253.7 L1741.2 1257.9 L1745.9 1262 L1750.5 1266.1 L1755.2 1270.2 L1759.8 1274.2 L1764.4 1278.3 L1769 1282.3 L1773.6 1286.3 L1778.2 1290.2 L1782.8 1294.2 M851.7 104.2 L853.8 107.5 L855.9 110.8 L858 114.1 L860 117.4 L862.1 120.6 L864.1 123.9 L866.2 127.1 L868.2 130.3 L870.3 133.6 L872.3 136.7 L874.4 139.9 L876.4 143.1 L878.4 146.3 L880.5 149.4 L882.5 152.5 L884.5 155.7 L886.5 158.8 L888.5 161.9 L890.5 165 L892.5 168 L894.5 171.1 L896.5 174.2 L898.5 177.2 L900.5 180.2 L902.5 183.3 L904.5 186.3 L906.4 189.3 L908.4 192.3 L910.4 195.2 L912.4 198.2 L914.3 201.2 L916.3 204.1 L918.2 207 L920.2 210 L922.1 212.9 L924.1 215.8 L926 218.7 L928 221.6 L929.9 224.4 L931.8 227.3 L933.8 230.2 L935.7 233 L937.6 235.8 L939.5 238.7 L941.5 241.5 L943.4 244.3 L945.3 247.1 L947.2 249.9 L949.1 252.6 L951 255.4 L952.9 258.2 L954.8 260.9 L956.7 263.7 L958.6 266.4 L960.5 269.1 L962.3 271.8 L964.2 274.5 L966.1 277.2 L968 279.9 L969.8 282.6 L971.7 285.3 L973.6 287.9 L975.4 290.6 L977.3 293.2 L979.1 295.9 L981 298.5 L982.8 301.1 L984.7 303.7 L986.5 306.3 L988.4 308.9 L990.2 311.5 L992 314.1 L993.9 316.7 L995.7 319.2 L997.5 321.8 L999.3 324.3 L1001.2 326.9 L1003 329.4 L1004.8 331.9 L1006.6 334.4 L1008.4 336.9 L1010.2 339.5 L1012 341.9 L1013.8 344.4 L1015.6 346.9 L1017.4 349.4 L1019.2 351.8 L1021 354.3 L1022.8 356.8 L1024.5 359.2 L1026.3 361.6 L1028.1 364.1 L1029.9 366.5 L1031.7 368.9 L1033.4 371.3 L1035.2 373.7 L1037 376.1 L1038.7 378.5 L1040.5 380.9 L1042.2 383.2 L1044 385.6 L1045.7 388 L1047.5 390.3 L1049.2 392.7 L1051 395 L1052.7 397.3 L1054.5 399.7 L1056.2 402 L1057.9 404.3 L1059.7 406.6 L1061.4 408.9 L1063.1 411.2 L1064.8 413.5 L1066.6 415.8 L1068.3 418 L1070 420.3 L1071.7 422.6 L1073.4 424.8 L1075.1 427.1 L1076.8 429.3 L1078.5 431.5 L1080.2 433.8 L1081.9 436 L1083.6 438.2 L1085.3 440.4 L1087 442.6 L1088.7 444.9 L1090.4 447 L1092.1 449.2 L1093.8 451.4 L1095.4 453.6 L1097.1 455.8 L1098.8 457.9 L1100.5 460.1 L1102.1 462.3 L1103.8 464.4 L1105.5 466.6 L1107.1 468.7 L1108.8 470.8 L1110.4 473 L1112.1 475.1 L1113.8 477.2 L1115.4 479.3 L1117.1 481.4 L1118.7 483.5 L1120.4 485.6 L1122 487.7 L1123.6 489.8 L1125.3 491.9 L1126.9 494 L1135.1 504.3 L1143.2 514.4 L1151.2 524.5 L1159.2 534.4 L1167.2 544.2 L1175.1 553.9 L1182.9 563.5 L1190.7 573 L1198.5 582.4 L1206.2 591.6 L1213.8 600.8 L1221.4 609.8 L1229 618.8 L1236.5 627.7 L1244 636.5 L1251.4 645.1 L1258.8 653.7 L1266.2 662.2 L1273.5 670.7 L1280.8 679 L1288 687.2 L1295.2 695.4 L1302.3 703.5 L1309.4 711.5 L1316.5 719.4 L1323.6 727.3 L1330.6 735.1 L1337.5 742.8 L1344.5 750.4 L1351.4 758 L1358.2 765.5 L1365.1 773 L1371.8 780.3 L1378.6 787.6 L1385.3 794.9 L1392 802.1 L1398.7 809.2 L1405.3 816.2 L1411.9 823.2 L1418.5 830.2 L1425 837 L1431.5 843.9 L1438 850.6 L1444.5 857.4 L1450.9 864 L1457.3 870.6 L1463.6 877.2 L1470 883.7 L1476.3 890.1 L1482.5 896.5 L1488.8 902.9 L1495 909.2 L1501.2 915.5 L1507.4 921.7 L1513.5 927.8 L1519.6 934 L1525.7 940 L1531.8 946.1 L1537.8 952 L1543.8 958 L1549.8 963.9 L1555.8 969.8 L1561.8 975.6 L1567.7 981.3 L1573.6 987.1 L1579.4 992.8 L1585.3 998.4 L1591.1 1004.1 L1596.9 1009.7 L1602.7 1015.2 L1608.5 1020.7 L1614.2 1026.2 L1619.9 1031.6 L1625.6 1037 L1631.3 1042.4 L1636.9 1047.7 L1642.6 1053 L1648.2 1058.3 L1653.8 1063.5 L1659.3 1068.7 L1664.9 1073.9 L1670.4 1079 L1675.9 1084.1 L1681.4 1089.2 L1686.9 1094.2 L1692.3 1099.2 L1697.8 1104.2 L1703.2 1109.2 L1708.6 1114.1 L1714 1119 L1719.3 1123.8 L1724.7 1128.7 L1730 1133.5 L1735.3 1138.3 L1740.6 1143 L1745.8 1147.7 L1751.1 1152.4 L1756.3 1157.1 L1761.5 1161.8 L1766.7 1166.4 L1771.9 1171 L1777.1 1175.5 L1782.2 1180.1 L1787.4 1184.6 L1792.5 1189.1 L1797.6 1193.6 L1802.7 1198 L1807.7 1202.4 L1812.8 1206.8 L1817.8 1211.2 L1822.8 1215.6 L1827.9 1219.9 L1832.8 1224.2 L1837.8 1228.5 L1842.8 1232.7 L1847.7 1237 L1852.6 1241.2 L1857.6 1245.4 L1862.5 1249.6 L1867.4 1253.7 L1872.2 1257.9 L1877.1 1262 L1881.9 1266.1 L1886.8 1270.2 L1891.6 1274.2 L1896.4 1278.3 L1901.2 1282.3 L1905.9 1286.3 L1910.7 1290.2 L1915.4 1294.2 M939.8 104.2 L942 107.5 L944.1 110.8 L946.3 114.1 L948.5 117.4 L950.6 120.6 L952.8 123.9 L954.9 127.1 L957.1 130.3 L959.2 133.6 L961.4 136.7 L963.5 139.9 L965.6 143.1 L967.8 146.3 L969.9 149.4 L972 152.5 L974.1 155.7 L976.2 158.8 L978.3 161.9 L980.4 165 L982.5 168 L984.6 171.1 L986.7 174.2 L988.8 177.2 L990.9 180.2 L993 183.3 L995 186.3 L997.1 189.3 L999.2 192.3 L1001.2 195.2 L1003.3 198.2 L1005.4 201.2 L1007.4 204.1 L1009.5 207 L1011.5 210 L1013.6 212.9 L1015.6 215.8 L1017.6 218.7 L1019.7 221.6 L1021.7 224.4 L1023.7 227.3 L1025.7 230.2 L1027.7 233 L1029.8 235.8 L1031.8 238.7 L1033.8 241.5 L1035.8 244.3 L1037.8 247.1 L1039.8 249.9 L1041.8 252.6 L1043.8 255.4 L1045.7 258.2 L1047.7 260.9 L1049.7 263.7 L1051.7 266.4 L1053.7 269.1 L1055.6 271.8 L1057.6 274.5 L1059.6 277.2 L1061.5 279.9 L1063.5 282.6 L1065.4 285.3 L1067.4 287.9 L1069.3 290.6 L1071.3 293.2 L1073.2 295.9 L1075.1 298.5 L1077.1 301.1 L1079 303.7 L1080.9 306.3 L1082.8 308.9 L1084.8 311.5 L1086.7 314.1 L1088.6 316.7 L1090.5 319.2 L1092.4 321.8 L1094.3 324.3 L1096.2 326.9 L1098.1 329.4 L1100 331.9 L1101.9 334.4 L1103.8 336.9 L1105.7 339.5 L1107.6 341.9 L1109.5 344.4 L1111.3 346.9 L1113.2 349.4 L1115.1 351.8 L1117 354.3 L1118.8 356.8 L1120.7 359.2 L1122.5 361.6 L1124.4 364.1 L1126.3 366.5 L1128.1 368.9 L1130 371.3 L1131.8 373.7 L1133.7 376.1 L1135.5 378.5 L1137.3 380.9 L1139.2 383.2 L1141 385.6 L1142.8 388 L1144.7 390.3 L1146.5 392.7 L1148.3 395 L1150.1 397.3 L1151.9 399.7 L1153.8 402 L1155.6 404.3 L1157.4 406.6 L1159.2 408.9 L1161 411.2 L1162.8 413.5 L1164.6 415.8 L1166.4 418 L1168.2 420.3 L1170 422.6 L1171.7 424.8 L1173.5 427.1 L1175.3 429.3 L1177.1 431.5 L1178.9 433.8 L1180.6 436 L1182.4 438.2 L1184.2 440.4 L1185.9 442.6 L1187.7 444.9 L1189.5 447 L1191.2 449.2 L1193 451.4 L1194.7 453.6 L1196.5 455.8 L1198.2 457.9 L1200 460.1 L1201.7 462.3 L1203.5 464.4 L1205.2 466.6 L1207 468.7 L1208.7 470.8 L1210.4 473 L1212.2 475.1 L1213.9 477.2 L1215.6 479.3 L1217.3 481.4 L1219.1 483.5 L1220.8 485.6 L1222.5 487.7 L1224.2 489.8 L1225.9 491.9 L1227.6 494 L1236.1 504.3 L1244.6 514.4 L1253 524.5 L1261.3 534.4 L1269.6 544.2 L1277.9 553.9 L1286 563.5 L1294.2 573 L1302.3 582.4 L1310.3 591.6 L1318.3 600.8 L1326.2 609.8 L1334.1 618.8 L1342 627.7 L1349.8 636.5 L1357.5 645.1 L1365.2 653.7 L1372.9 662.2 L1380.5 670.7 L1388.1 679 L1395.6 687.2 L1403.1 695.4 L1410.6 703.5 L1418 711.5 L1425.4 719.4 L1432.7 727.3 L1440 735.1 L1447.3 742.8 L1454.5 750.4 L1461.7 758 L1468.8 765.5 L1475.9 773 L1483 780.3 L1490 787.6 L1497 794.9 L1504 802.1 L1510.9 809.2 L1517.9 816.2 L1524.7 823.2 L1531.6 830.2 L1538.4 837 L1545.1 843.9 L1551.9 850.6 L1558.6 857.4 L1565.3 864 L1571.9 870.6 L1578.5 877.2 L1585.1 883.7 L1591.7 890.1 L1598.2 896.5 L1604.7 902.9 L1611.2 909.2 L1617.6 915.5 L1624.1 921.7 L1630.5 927.8 L1636.8 934 L1643.2 940 L1649.5 946.1 L1655.8 952 L1662 958 L1668.2 963.9 L1674.5 969.8 L1680.6 975.6 L1686.8 981.3 L1692.9 987.1 L1699 992.8 L1705.1 998.4 L1711.2 1004.1 L1717.2 1009.7 L1723.2 1015.2 L1729.2 1020.7 L1735.2 1026.2 L1741.1 1031.6 L1747 1037 L1752.9 1042.4 L1758.8 1047.7 L1764.7 1053 L1770.5 1058.3 L1776.3 1063.5 L1782.1 1068.7 L1787.9 1073.9 L1793.6 1079 L1799.3 1084.1 L1805 1089.2 L1810.7 1094.2 L1816.4 1099.2 L1822 1104.2 L1827.7 1109.2 L1833.3 1114.1 L1838.9 1119 L1844.4 1123.8 L1850 1128.7 L1855.5 1133.5 L1861 1138.3 L1866.5 1143 L1872 1147.7 L1877.4 1152.4 L1882.9 1157.1 L1888.3 1161.8 L1893.7 1166.4 L1899.1 1171 L1904.4 1175.5 L1909.8 1180.1 L1915.1 1184.6 L1920.4 1189.1 L1925.7 1193.6 L1931 1198 L1936.3 1202.4 L1941.5 1206.8 L1946.8 1211.2 L1952 1215.6 L1957.2 1219.9 L1962.4 1224.2 L1967.5 1228.5 L1972.7 1232.7 L1977.8 1237 L1982.9 1241.2 L1988 1245.4 L1993.1 1249.6 L1998.2 1253.7 L2003.2 1257.9 L2008.3 1262 L2013.3 1266.1 L2018.3 1270.2 L2023.3 1274.2 L2028.3 1278.3 L2033.3 1282.3 L2038.2 1286.3 L2043.2 1290.2 L2048.1 1294.2 M1027.8 104.2 L1030.1 107.5 L1032.4 110.8 L1034.7 114.1 L1036.9 117.4 L1039.2 120.6 L1041.4 123.9 L1043.7 127.1 L1045.9 130.3 L1048.2 133.6 L1050.4 136.7 L1052.6 139.9 L1054.9 143.1 L1057.1 146.3 L1059.3 149.4 L1061.5 152.5 L1063.7 155.7 L1065.9 158.8 L1068.1 161.9 L1070.3 165 L1072.5 168 L1074.7 171.1 L1076.9 174.2 L1079.1 177.2 L1081.3 180.2 L1083.5 183.3 L1085.6 186.3 L1087.8 189.3 L1089.9 192.3 L1092.1 195.2 L1094.3 198.2 L1096.4 201.2 L1098.6 204.1 L1100.7 207 L1102.8 210 L1105 212.9 L1107.1 215.8 L1109.2 218.7 L1111.3 221.6 L1113.5 224.4 L1115.6 227.3 L1117.7 230.2 L1119.8 233 L1121.9 235.8 L1124 238.7 L1126.1 241.5 L1128.2 244.3 L1130.3 247.1 L1132.4 249.9 L1134.4 252.6 L1136.5 255.4 L1138.6 258.2 L1140.7 260.9 L1142.7 263.7 L1144.8 266.4 L1146.9 269.1 L1148.9 271.8 L1151 274.5 L1153 277.2 L1155.1 279.9 L1157.1 282.6 L1159.1 285.3 L1161.2 287.9 L1163.2 290.6 L1165.2 293.2 L1167.3 295.9 L1169.3 298.5 L1171.3 301.1 L1173.3 303.7 L1175.3 306.3 L1177.3 308.9 L1179.3 311.5 L1181.3 314.1 L1183.3 316.7 L1185.3 319.2 L1187.3 321.8 L1189.3 324.3 L1191.3 326.9 L1193.3 329.4 L1195.3 331.9 L1197.2 334.4 L1199.2 336.9 L1201.2 339.5 L1203.1 341.9 L1205.1 344.4 L1207.1 346.9 L1209 349.4 L1211 351.8 L1212.9 354.3 L1214.9 356.8 L1216.8 359.2 L1218.8 361.6 L1220.7 364.1 L1222.6 366.5 L1224.6 368.9 L1226.5 371.3 L1228.4 373.7 L1230.3 376.1 L1232.3 378.5 L1234.2 380.9 L1236.1 383.2 L1238 385.6 L1239.9 388 L1241.8 390.3 L1243.7 392.7 L1245.6 395 L1247.5 397.3 L1249.4 399.7 L1251.3 402 L1253.2 404.3 L1255.1 406.6 L1257 408.9 L1258.9 411.2 L1260.7 413.5 L1262.6 415.8 L1264.5 418 L1266.3 420.3 L1268.2 422.6 L1270.1 424.8 L1271.9 427.1 L1273.8 429.3 L1275.7 431.5 L1277.5 433.8 L1279.4 436 L1281.2 438.2 L1283 440.4 L1284.9 442.6 L1286.7 444.9 L1288.6 447 L1290.4 449.2 L1292.2 451.4 L1294.1 453.6 L1295.9 455.8 L1297.7 457.9 L1299.5 460.1 L1301.4 462.3 L1303.2 464.4 L1305 466.6 L1306.8 468.7 L1308.6 470.8 L1310.4 473 L1312.2 475.1 L1314 477.2 L1315.8 479.3 L1317.6 481.4 L1319.4 483.5 L1321.2 485.6 L1323 487.7 L1324.8 489.8 L1326.5 491.9 L1328.3 494 L1337.2 504.3 L1346 514.4 L1354.8 524.5 L1363.5 534.4 L1372.1 544.2 L1380.7 553.9 L1389.2 563.5 L1397.7 573 L1406.1 582.4 L1414.5 591.6 L1422.8 600.8 L1431 609.8 L1439.3 618.8 L1447.4 627.7 L1455.5 636.5 L1463.6 645.1 L1471.6 653.7 L1479.6 662.2 L1487.5 670.7 L1495.4 679 L1503.3 687.2 L1511.1 695.4 L1518.8 703.5 L1526.5 711.5 L1534.2 719.4 L1541.8 727.3 L1549.4 735.1 L1557 742.8 L1564.5 750.4 L1572 758 L1579.4 765.5 L1586.8 773 L1594.1 780.3 L1601.5 787.6 L1608.7 794.9 L1616 802.1 L1623.2 809.2 L1630.4 816.2 L1637.5 823.2 L1644.6 830.2 L1651.7 837 L1658.7 843.9 L1665.8 850.6 L1672.7 857.4 L1679.7 864 L1686.6 870.6 L1693.5 877.2 L1700.3 883.7 L1707.1 890.1 L1713.9 896.5 L1720.7 902.9 L1727.4 909.2 L1734.1 915.5 L1740.8 921.7 L1747.4 927.8 L1754 934 L1760.6 940 L1767.1 946.1 L1773.7 952 L1780.2 958 L1786.6 963.9 L1793.1 969.8 L1799.5 975.6 L1805.9 981.3 L1812.3 987.1 L1818.6 992.8 L1824.9 998.4 L1831.2 1004.1 L1837.5 1009.7 L1843.7 1015.2 L1850 1020.7 L1856.1 1026.2 L1862.3 1031.6 L1868.5 1037 L1874.6 1042.4 L1880.7 1047.7 L1886.8 1053 L1892.8 1058.3 L1898.9 1063.5 L1904.9 1068.7 L1910.8 1073.9 L1916.8 1079 L1922.8 1084.1 L1928.7 1089.2 L1934.6 1094.2 L1940.5 1099.2 L1946.3 1104.2 L1952.2 1109.2 L1958 1114.1 L1963.8 1119 L1969.5 1123.8 L1975.3 1128.7 L1981 1133.5 L1986.8 1138.3 L1992.5 1143 L1998.1 1147.7 L2003.8 1152.4 L2009.4 1157.1 L2015.1 1161.8 L2020.7 1166.4 L2026.2 1171 L2031.8 1175.5 L2037.4 1180.1 L2042.9 1184.6 L2048.4 1189.1 L2053.9 1193.6 L2059.4 1198 L2064.8 1202.4 L2070.3 1206.8 L2075.7 1211.2 L2081.1 1215.6 L2086.5 1219.9 L2091.9 1224.2 L2097.2 1228.5 L2102.6 1232.7 L2107.9 1237 L2113.2 1241.2 L2118.5 1245.4 L2123.8 1249.6 L2129 1253.7 L2134.3 1257.9 L2139.5 1262 L2144.7 1266.1 L2149.9 1270.2 L2155.1 1274.2 L2160.3 1278.3 L2165.4 1282.3 L2170.6 1286.3 L2175.7 1290.2 L2180.8 1294.2 M1115.9 104.2 L1118.3 107.5 L1120.6 110.8 L1123 114.1 L1125.4 117.4 L1127.7 120.6 L1130.1 123.9 L1132.4 127.1 L1134.8 130.3 L1137.1 133.6 L1139.5 136.7 L1141.8 139.9 L1144.1 143.1 L1146.4 146.3 L1148.7 149.4 L1151.1 152.5 L1153.4 155.7 L1155.7 158.8 L1158 161.9 L1160.3 165 L1162.6 168 L1164.8 171.1 L1167.1 174.2 L1169.4 177.2 L1171.7 180.2 L1173.9 183.3 L1176.2 186.3 L1178.5 189.3 L1180.7 192.3 L1183 195.2 L1185.2 198.2 L1187.4 201.2 L1189.7 204.1 L1191.9 207 L1194.1 210 L1196.4 212.9 L1198.6 215.8 L1200.8 218.7 L1203 221.6 L1205.2 224.4 L1207.4 227.3 L1209.6 230.2 L1211.8 233 L1214 235.8 L1216.2 238.7 L1218.4 241.5 L1220.6 244.3 L1222.8 247.1 L1224.9 249.9 L1227.1 252.6 L1229.3 255.4 L1231.4 258.2 L1233.6 260.9 L1235.8 263.7 L1237.9 266.4 L1240 269.1 L1242.2 271.8 L1244.3 274.5 L1246.5 277.2 L1248.6 279.9 L1250.7 282.6 L1252.9 285.3 L1255 287.9 L1257.1 290.6 L1259.2 293.2 L1261.3 295.9 L1263.4 298.5 L1265.5 301.1 L1267.6 303.7 L1269.7 306.3 L1271.8 308.9 L1273.9 311.5 L1276 314.1 L1278.1 316.7 L1280.2 319.2 L1282.2 321.8 L1284.3 324.3 L1286.4 326.9 L1288.4 329.4 L1290.5 331.9 L1292.6 334.4 L1294.6 336.9 L1296.7 339.5 L1298.7 341.9 L1300.8 344.4 L1302.8 346.9 L1304.8 349.4 L1306.9 351.8 L1308.9 354.3 L1310.9 356.8 L1313 359.2 L1315 361.6 L1317 364.1 L1319 366.5 L1321 368.9 L1323 371.3 L1325 373.7 L1327 376.1 L1329 378.5 L1331 380.9 L1333 383.2 L1335 385.6 L1337 388 L1339 390.3 L1341 392.7 L1343 395 L1344.9 397.3 L1346.9 399.7 L1348.9 402 L1350.8 404.3 L1352.8 406.6 L1354.8 408.9 L1356.7 411.2 L1358.7 413.5 L1360.6 415.8 L1362.6 418 L1364.5 420.3 L1366.5 422.6 L1368.4 424.8 L1370.3 427.1 L1372.3 429.3 L1374.2 431.5 L1376.1 433.8 L1378.1 436 L1380 438.2 L1381.9 440.4 L1383.8 442.6 L1385.7 444.9 L1387.7 447 L1389.6 449.2 L1391.5 451.4 L1393.4 453.6 L1395.3 455.8 L1397.2 457.9 L1399.1 460.1 L1401 462.3 L1402.9 464.4 L1404.7 466.6 L1406.6 468.7 L1408.5 470.8 L1410.4 473 L1412.3 475.1 L1414.1 477.2 L1416 479.3 L1417.9 481.4 L1419.7 483.5 L1421.6 485.6 L1423.5 487.7 L1425.3 489.8 L1427.2 491.9 L1429 494 L1438.3 504.3 L1447.4 514.4 L1456.5 524.5 L1465.6 534.4 L1474.6 544.2 L1483.5 553.9 L1492.3 563.5 L1501.2 573 L1509.9 582.4 L1518.6 591.6 L1527.3 600.8 L1535.8 609.8 L1544.4 618.8 L1552.9 627.7 L1561.3 636.5 L1569.7 645.1 L1578 653.7 L1586.3 662.2 L1594.6 670.7 L1602.8 679 L1610.9 687.2 L1619 695.4 L1627.1 703.5 L1635.1 711.5 L1643 719.4 L1651 727.3 L1658.9 735.1 L1666.7 742.8 L1674.5 750.4 L1682.3 758 L1690 765.5 L1697.7 773 L1705.3 780.3 L1712.9 787.6 L1720.5 794.9 L1728 802.1 L1735.5 809.2 L1742.9 816.2 L1750.3 823.2 L1757.7 830.2 L1765 837 L1772.4 843.9 L1779.6 850.6 L1786.9 857.4 L1794.1 864 L1801.2 870.6 L1808.4 877.2 L1815.5 883.7 L1822.6 890.1 L1829.6 896.5 L1836.6 902.9 L1843.6 909.2 L1850.5 915.5 L1857.5 921.7 L1864.3 927.8 L1871.2 934 L1878 940 L1884.8 946.1 L1891.6 952 L1898.3 958 L1905.1 963.9 L1911.7 969.8 L1918.4 975.6 L1925 981.3 L1931.6 987.1 L1938.2 992.8 L1944.8 998.4 L1951.3 1004.1 L1957.8 1009.7 L1964.3 1015.2 L1970.7 1020.7 L1977.1 1026.2 L1983.5 1031.6 L1989.9 1037 L1996.2 1042.4 L2002.6 1047.7 L2008.9 1053 L2015.1 1058.3 L2021.4 1063.5 L2027.6 1068.7 L2033.8 1073.9 L2040 1079 L2046.2 1084.1 L2052.3 1089.2 L2058.4 1094.2 L2064.5 1099.2 L2070.6 1104.2 L2076.6 1109.2 L2082.7 1114.1 L2088.7 1119 L2094.7 1123.8 L2100.6 1128.7 L2106.6 1133.5 L2112.5 1138.3 L2118.4 1143 L2124.3 1147.7 L2130.1 1152.4 L2136 1157.1 L2141.8 1161.8 L2147.6 1166.4 L2153.4 1171 L2159.2 1175.5 L2164.9 1180.1 L2170.6 1184.6 L2176.4 1189.1 L2182.1 1193.6 L2187.7 1198 L2193.4 1202.4 L2199 1206.8 L2204.6 1211.2 L2210.2 1215.6 L2215.8 1219.9 L2221.4 1224.2 L2226.9 1228.5 L2232.5 1232.7 L2238 1237 L2243.5 1241.2 L2249 1245.4 L2254.4 1249.6 L2259.9 1253.7 L2265.3 1257.9 L2270.7 1262 L2276.1 1266.1 L2281.5 1270.2 L2286.9 1274.2 L2292.2 1278.3 L2297.6 1282.3 L2302.9 1286.3 L2308.2 1290.2 L2313.5 1294.2 M1203.9 104.2 L1206.4 107.5 L1208.9 110.8 L1211.4 114.1 L1213.8 117.4 L1216.3 120.6 L1218.7 123.9 L1221.2 127.1 L1223.6 130.3 L1226.1 133.6 L1228.5 136.7 L1230.9 139.9 L1233.3 143.1 L1235.8 146.3 L1238.2 149.4 L1240.6 152.5 L1243 155.7 L1245.4 158.8 L1247.8 161.9 L1250.2 165 L1252.6 168 L1254.9 171.1 L1257.3 174.2 L1259.7 177.2 L1262.1 180.2 L1264.4 183.3 L1266.8 186.3 L1269.1 189.3 L1271.5 192.3 L1273.8 195.2 L1276.2 198.2 L1278.5 201.2 L1280.8 204.1 L1283.1 207 L1285.5 210 L1287.8 212.9 L1290.1 215.8 L1292.4 218.7 L1294.7 221.6 L1297 224.4 L1299.3 227.3 L1301.6 230.2 L1303.9 233 L1306.2 235.8 L1308.4 238.7 L1310.7 241.5 L1313 244.3 L1315.3 247.1 L1317.5 249.9 L1319.8 252.6 L1322 255.4 L1324.3 258.2 L1326.5 260.9 L1328.8 263.7 L1331 266.4 L1333.2 269.1 L1335.5 271.8 L1337.7 274.5 L1339.9 277.2 L1342.1 279.9 L1344.4 282.6 L1346.6 285.3 L1348.8 287.9 L1351 290.6 L1353.2 293.2 L1355.4 295.9 L1357.6 298.5 L1359.8 301.1 L1361.9 303.7 L1364.1 306.3 L1366.3 308.9 L1368.5 311.5 L1370.6 314.1 L1372.8 316.7 L1375 319.2 L1377.1 321.8 L1379.3 324.3 L1381.4 326.9 L1383.6 329.4 L1385.7 331.9 L1387.9 334.4 L1390 336.9 L1392.1 339.5 L1394.3 341.9 L1396.4 344.4 L1398.5 346.9 L1400.6 349.4 L1402.8 351.8 L1404.9 354.3 L1407 356.8 L1409.1 359.2 L1411.2 361.6 L1413.3 364.1 L1415.4 366.5 L1417.5 368.9 L1419.6 371.3 L1421.7 373.7 L1423.7 376.1 L1425.8 378.5 L1427.9 380.9 L1430 383.2 L1432 385.6 L1434.1 388 L1436.2 390.3 L1438.2 392.7 L1440.3 395 L1442.3 397.3 L1444.4 399.7 L1446.4 402 L1448.5 404.3 L1450.5 406.6 L1452.6 408.9 L1454.6 411.2 L1456.6 413.5 L1458.7 415.8 L1460.7 418 L1462.7 420.3 L1464.7 422.6 L1466.7 424.8 L1468.8 427.1 L1470.8 429.3 L1472.8 431.5 L1474.8 433.8 L1476.8 436 L1478.8 438.2 L1480.8 440.4 L1482.8 442.6 L1484.8 444.9 L1486.7 447 L1488.7 449.2 L1490.7 451.4 L1492.7 453.6 L1494.7 455.8 L1496.6 457.9 L1498.6 460.1 L1500.6 462.3 L1502.5 464.4 L1504.5 466.6 L1506.5 468.7 L1508.4 470.8 L1510.4 473 L1512.3 475.1 L1514.3 477.2 L1516.2 479.3 L1518.1 481.4 L1520.1 483.5 L1522 485.6 L1524 487.7 L1525.9 489.8 L1527.8 491.9 L1529.7 494 L1539.3 504.3 L1548.8 514.4 L1558.3 524.5 L1567.7 534.4 L1577 544.2 L1586.3 553.9 L1595.5 563.5 L1604.6 573 L1613.7 582.4 L1622.8 591.6 L1631.7 600.8 L1640.6 609.8 L1649.5 618.8 L1658.3 627.7 L1667.1 636.5 L1675.8 645.1 L1684.4 653.7 L1693 662.2 L1701.6 670.7 L1710.1 679 L1718.5 687.2 L1726.9 695.4 L1735.3 703.5 L1743.6 711.5 L1751.9 719.4 L1760.1 727.3 L1768.3 735.1 L1776.4 742.8 L1784.5 750.4 L1792.6 758 L1800.6 765.5 L1808.5 773 L1816.4 780.3 L1824.3 787.6 L1832.2 794.9 L1840 802.1 L1847.7 809.2 L1855.4 816.2 L1863.1 823.2 L1870.8 830.2 L1878.4 837 L1886 843.9 L1893.5 850.6 L1901 857.4 L1908.5 864 L1915.9 870.6 L1923.3 877.2 L1930.7 883.7 L1938 890.1 L1945.3 896.5 L1952.6 902.9 L1959.8 909.2 L1967 915.5 L1974.2 921.7 L1981.3 927.8 L1988.4 934 L1995.5 940 L2002.5 946.1 L2009.5 952 L2016.5 958 L2023.5 963.9 L2030.4 969.8 L2037.3 975.6 L2044.1 981.3 L2051 987.1 L2057.8 992.8 L2064.6 998.4 L2071.3 1004.1 L2078.1 1009.7 L2084.8 1015.2 L2091.4 1020.7 L2098.1 1026.2 L2104.7 1031.6 L2111.3 1037 L2117.9 1042.4 L2124.4 1047.7 L2131 1053 L2137.5 1058.3 L2143.9 1063.5 L2150.4 1068.7 L2156.8 1073.9 L2163.2 1079 L2169.6 1084.1 L2175.9 1089.2 L2182.3 1094.2 L2188.6 1099.2 L2194.9 1104.2 L2201.1 1109.2 L2207.4 1114.1 L2213.6 1119 L2219.8 1123.8 L2225.9 1128.7 L2232.1 1133.5 L2238.2 1138.3 L2244.3 1143 L2250.4 1147.7 L2256.5 1152.4 L2262.5 1157.1 L2268.6 1161.8 L2274.6 1166.4 L2280.6 1171 L2286.5 1175.5 L2292.5 1180.1 L2298.4 1184.6 L2304.3 1189.1 L2310.2 1193.6 L2316.1 1198 L2321.9 1202.4 L2327.8 1206.8 L2333.6 1211.2 L2339.4 1215.6 L2345.1 1219.9 L2350.9 1224.2 L2356.6 1228.5 L2362.4 1232.7 L2368.1 1237 L2373.8 1241.2 L2379.4 1245.4 L2385.1 1249.6 L2390.7 1253.7 L2396.3 1257.9 L2401.9 1262 L2407.5 1266.1 L2413.1 1270.2 L2418.6 1274.2 L2424.2 1278.3 L2429.7 1282.3 L2435.2 1286.3 L2440.7 1290.2 L2446.1 1294.2 M1292 104.2 L1294.6 107.5 L1297.1 110.8 L1299.7 114.1 L1302.3 117.4 L1304.8 120.6 L1307.4 123.9 L1309.9 127.1 L1312.5 130.3 L1315 133.6 L1317.5 136.7 L1320.1 139.9 L1322.6 143.1 L1325.1 146.3 L1327.6 149.4 L1330.1 152.5 L1332.6 155.7 L1335.1 158.8 L1337.6 161.9 L1340.1 165 L1342.6 168 L1345 171.1 L1347.5 174.2 L1350 177.2 L1352.4 180.2 L1354.9 183.3 L1357.3 186.3 L1359.8 189.3 L1362.2 192.3 L1364.7 195.2 L1367.1 198.2 L1369.5 201.2 L1372 204.1 L1374.4 207 L1376.8 210 L1379.2 212.9 L1381.6 215.8 L1384 218.7 L1386.4 221.6 L1388.8 224.4 L1391.2 227.3 L1393.6 230.2 L1395.9 233 L1398.3 235.8 L1400.7 238.7 L1403 241.5 L1405.4 244.3 L1407.8 247.1 L1410.1 249.9 L1412.5 252.6 L1414.8 255.4 L1417.1 258.2 L1419.5 260.9 L1421.8 263.7 L1424.1 266.4 L1426.4 269.1 L1428.8 271.8 L1431.1 274.5 L1433.4 277.2 L1435.7 279.9 L1438 282.6 L1440.3 285.3 L1442.6 287.9 L1444.9 290.6 L1447.2 293.2 L1449.4 295.9 L1451.7 298.5 L1454 301.1 L1456.3 303.7 L1458.5 306.3 L1460.8 308.9 L1463 311.5 L1465.3 314.1 L1467.5 316.7 L1469.8 319.2 L1472 321.8 L1474.3 324.3 L1476.5 326.9 L1478.7 329.4 L1481 331.9 L1483.2 334.4 L1485.4 336.9 L1487.6 339.5 L1489.8 341.9 L1492 344.4 L1494.3 346.9 L1496.5 349.4 L1498.7 351.8 L1500.8 354.3 L1503 356.8 L1505.2 359.2 L1507.4 361.6 L1509.6 364.1 L1511.8 366.5 L1513.9 368.9 L1516.1 371.3 L1518.3 373.7 L1520.4 376.1 L1522.6 378.5 L1524.8 380.9 L1526.9 383.2 L1529.1 385.6 L1531.2 388 L1533.3 390.3 L1535.5 392.7 L1537.6 395 L1539.7 397.3 L1541.9 399.7 L1544 402 L1546.1 404.3 L1548.2 406.6 L1550.4 408.9 L1552.5 411.2 L1554.6 413.5 L1556.7 415.8 L1558.8 418 L1560.9 420.3 L1563 422.6 L1565.1 424.8 L1567.2 427.1 L1569.3 429.3 L1571.3 431.5 L1573.4 433.8 L1575.5 436 L1577.6 438.2 L1579.6 440.4 L1581.7 442.6 L1583.8 444.9 L1585.8 447 L1587.9 449.2 L1590 451.4 L1592 453.6 L1594.1 455.8 L1596.1 457.9 L1598.1 460.1 L1600.2 462.3 L1602.2 464.4 L1604.3 466.6 L1606.3 468.7 L1608.3 470.8 L1610.3 473 L1612.4 475.1 L1614.4 477.2 L1616.4 479.3 L1618.4 481.4 L1620.4 483.5 L1622.4 485.6 L1624.4 487.7 L1626.4 489.8 L1628.4 491.9 L1630.4 494 L1640.4 504.3 L1650.3 514.4 L1660.1 524.5 L1669.8 534.4 L1679.5 544.2 L1689.1 553.9 L1698.6 563.5 L1708.1 573 L1717.5 582.4 L1726.9 591.6 L1736.2 600.8 L1745.5 609.8 L1754.6 618.8 L1763.8 627.7 L1772.9 636.5 L1781.9 645.1 L1790.8 653.7 L1799.8 662.2 L1808.6 670.7 L1817.4 679 L1826.2 687.2 L1834.9 695.4 L1843.6 703.5 L1852.2 711.5 L1860.7 719.4 L1869.2 727.3 L1877.7 735.1 L1886.1 742.8 L1894.5 750.4 L1902.8 758 L1911.1 765.5 L1919.4 773 L1927.6 780.3 L1935.7 787.6 L1943.9 794.9 L1951.9 802.1 L1960 809.2 L1968 816.2 L1975.9 823.2 L1983.9 830.2 L1991.7 837 L1999.6 843.9 L2007.4 850.6 L2015.1 857.4 L2022.9 864 L2030.6 870.6 L2038.2 877.2 L2045.8 883.7 L2053.4 890.1 L2061 896.5 L2068.5 902.9 L2076 909.2 L2083.4 915.5 L2090.8 921.7 L2098.2 927.8 L2105.6 934 L2112.9 940 L2120.2 946.1 L2127.4 952 L2134.7 958 L2141.9 963.9 L2149 969.8 L2156.2 975.6 L2163.3 981.3 L2170.3 987.1 L2177.4 992.8 L2184.4 998.4 L2191.4 1004.1 L2198.4 1009.7 L2205.3 1015.2 L2212.2 1020.7 L2219.1 1026.2 L2225.9 1031.6 L2232.7 1037 L2239.5 1042.4 L2246.3 1047.7 L2253.1 1053 L2259.8 1058.3 L2266.5 1063.5 L2273.1 1068.7 L2279.8 1073.9 L2286.4 1079 L2293 1084.1 L2299.6 1089.2 L2306.1 1094.2 L2312.6 1099.2 L2319.1 1104.2 L2325.6 1109.2 L2332.1 1114.1 L2338.5 1119 L2344.9 1123.8 L2351.3 1128.7 L2357.6 1133.5 L2364 1138.3 L2370.3 1143 L2376.6 1147.7 L2382.9 1152.4 L2389.1 1157.1 L2395.3 1161.8 L2401.5 1166.4 L2407.7 1171 L2413.9 1175.5 L2420 1180.1 L2426.2 1184.6 L2432.3 1189.1 L2438.4 1193.6 L2444.4 1198 L2450.5 1202.4 L2456.5 1206.8 L2462.5 1211.2 L2468.5 1215.6 L2474.5 1219.9 L2480.4 1224.2 L2486.3 1228.5 L2492.3 1232.7 L2498.2 1237 L2504 1241.2 L2509.9 1245.4 L2515.7 1249.6 L2521.6 1253.7 L2527.4 1257.9 L2533.1 1262 L2538.9 1266.1 L2544.7 1270.2 L2550.4 1274.2 L2556.1 1278.3 L2561.8 1282.3 L2567.5 1286.3 L2573.2 1290.2 L2578.8 1294.2 M1380 104.2 L1382.7 107.5 L1385.4 110.8 L1388.1 114.1 L1390.7 117.4 L1393.4 120.6 L1396 123.9 L1398.7 127.1 L1401.3 130.3 L1404 133.6 L1406.6 136.7 L1409.2 139.9 L1411.8 143.1 L1414.4 146.3 L1417 149.4 L1419.6 152.5 L1422.2 155.7 L1424.8 158.8 L1427.4 161.9 L1430 165 L1432.6 168 L1435.1 171.1 L1437.7 174.2 L1440.3 177.2 L1442.8 180.2 L1445.4 183.3 L1447.9 186.3 L1450.5 189.3 L1453 192.3 L1455.5 195.2 L1458 198.2 L1460.6 201.2 L1463.1 204.1 L1465.6 207 L1468.1 210 L1470.6 212.9 L1473.1 215.8 L1475.6 218.7 L1478.1 221.6 L1480.6 224.4 L1483 227.3 L1485.5 230.2 L1488 233 L1490.4 235.8 L1492.9 238.7 L1495.4 241.5 L1497.8 244.3 L1500.2 247.1 L1502.7 249.9 L1505.1 252.6 L1507.6 255.4 L1510 258.2 L1512.4 260.9 L1514.8 263.7 L1517.2 266.4 L1519.6 269.1 L1522 271.8 L1524.4 274.5 L1526.8 277.2 L1529.2 279.9 L1531.6 282.6 L1534 285.3 L1536.4 287.9 L1538.8 290.6 L1541.1 293.2 L1543.5 295.9 L1545.9 298.5 L1548.2 301.1 L1550.6 303.7 L1552.9 306.3 L1555.3 308.9 L1557.6 311.5 L1560 314.1 L1562.3 316.7 L1564.6 319.2 L1566.9 321.8 L1569.3 324.3 L1571.6 326.9 L1573.9 329.4 L1576.2 331.9 L1578.5 334.4 L1580.8 336.9 L1583.1 339.5 L1585.4 341.9 L1587.7 344.4 L1590 346.9 L1592.3 349.4 L1594.5 351.8 L1596.8 354.3 L1599.1 356.8 L1601.4 359.2 L1603.6 361.6 L1605.9 364.1 L1608.1 366.5 L1610.4 368.9 L1612.6 371.3 L1614.9 373.7 L1617.1 376.1 L1619.4 378.5 L1621.6 380.9 L1623.8 383.2 L1626.1 385.6 L1628.3 388 L1630.5 390.3 L1632.7 392.7 L1634.9 395 L1637.2 397.3 L1639.4 399.7 L1641.6 402 L1643.8 404.3 L1646 406.6 L1648.2 408.9 L1650.3 411.2 L1652.5 413.5 L1654.7 415.8 L1656.9 418 L1659.1 420.3 L1661.2 422.6 L1663.4 424.8 L1665.6 427.1 L1667.7 429.3 L1669.9 431.5 L1672.1 433.8 L1674.2 436 L1676.4 438.2 L1678.5 440.4 L1680.6 442.6 L1682.8 444.9 L1684.9 447 L1687.1 449.2 L1689.2 451.4 L1691.3 453.6 L1693.4 455.8 L1695.6 457.9 L1697.7 460.1 L1699.8 462.3 L1701.9 464.4 L1704 466.6 L1706.1 468.7 L1708.2 470.8 L1710.3 473 L1712.4 475.1 L1714.5 477.2 L1716.6 479.3 L1718.7 481.4 L1720.8 483.5 L1722.9 485.6 L1724.9 487.7 L1727 489.8 L1729.1 491.9 L1731.1 494 L1741.4 504.3 L1751.7 514.4 L1761.8 524.5 L1771.9 534.4 L1781.9 544.2 L1791.9 553.9 L1801.8 563.5 L1811.6 573 L1821.4 582.4 L1831.1 591.6 L1840.7 600.8 L1850.3 609.8 L1859.8 618.8 L1869.2 627.7 L1878.6 636.5 L1888 645.1 L1897.2 653.7 L1906.5 662.2 L1915.6 670.7 L1924.8 679 L1933.8 687.2 L1942.8 695.4 L1951.8 703.5 L1960.7 711.5 L1969.6 719.4 L1978.4 727.3 L1987.1 735.1 L1995.9 742.8 L2004.5 750.4 L2013.1 758 L2021.7 765.5 L2030.2 773 L2038.7 780.3 L2047.2 787.6 L2055.6 794.9 L2063.9 802.1 L2072.2 809.2 L2080.5 816.2 L2088.7 823.2 L2096.9 830.2 L2105.1 837 L2113.2 843.9 L2121.2 850.6 L2129.3 857.4 L2137.3 864 L2145.2 870.6 L2153.1 877.2 L2161 883.7 L2168.9 890.1 L2176.7 896.5 L2184.4 902.9 L2192.2 909.2 L2199.9 915.5 L2207.5 921.7 L2215.2 927.8 L2222.8 934 L2230.3 940 L2237.9 946.1 L2245.4 952 L2252.8 958 L2260.3 963.9 L2267.7 969.8 L2275 975.6 L2282.4 981.3 L2289.7 987.1 L2297 992.8 L2304.2 998.4 L2311.4 1004.1 L2318.6 1009.7 L2325.8 1015.2 L2332.9 1020.7 L2340 1026.2 L2347.1 1031.6 L2354.2 1037 L2361.2 1042.4 L2368.2 1047.7 L2375.2 1053 L2382.1 1058.3 L2389 1063.5 L2395.9 1068.7 L2402.8 1073.9 L2409.6 1079 L2416.4 1084.1 L2423.2 1089.2 L2430 1094.2 L2436.7 1099.2 L2443.4 1104.2 L2450.1 1109.2 L2456.7 1114.1 L2463.4 1119 L2470 1123.8 L2476.6 1128.7 L2483.2 1133.5 L2489.7 1138.3 L2496.2 1143 L2502.7 1147.7 L2509.2 1152.4 L2515.7 1157.1 L2522.1 1161.8 L2528.5 1166.4 L2534.9 1171 L2541.3 1175.5 L2547.6 1180.1 L2553.9 1184.6 L2560.2 1189.1 L2566.5 1193.6 L2572.8 1198 L2579 1202.4 L2585.2 1206.8 L2591.4 1211.2 L2597.6 1215.6 L2603.8 1219.9 L2609.9 1224.2 L2616.1 1228.5 L2622.2 1232.7 L2628.2 1237 L2634.3 1241.2 L2640.4 1245.4 L2646.4 1249.6 L2652.4 1253.7 L2658.4 1257.9 L2664.4 1262 L2670.3 1266.1 L2676.2 1270.2 L2682.2 1274.2 L2688.1 1278.3 L2693.9 1282.3 L2699.8 1286.3 L2705.7 1290.2 L2711.5 1294.2 M1468.1 104.2 L1470.9 107.5 L1473.6 110.8 L1476.4 114.1 L1479.2 117.4 L1481.9 120.6 L1484.7 123.9 L1487.4 127.1 L1490.2 130.3 L1492.9 133.6 L1495.6 136.7 L1498.3 139.9 L1501.1 143.1 L1503.8 146.3 L1506.5 149.4 L1509.2 152.5 L1511.9 155.7 L1514.6 158.8 L1517.2 161.9 L1519.9 165 L1522.6 168 L1525.2 171.1 L1527.9 174.2 L1530.6 177.2 L1533.2 180.2 L1535.9 183.3 L1538.5 186.3 L1541.1 189.3 L1543.8 192.3 L1546.4 195.2 L1549 198.2 L1551.6 201.2 L1554.2 204.1 L1556.8 207 L1559.4 210 L1562 212.9 L1564.6 215.8 L1567.2 218.7 L1569.8 221.6 L1572.3 224.4 L1574.9 227.3 L1577.5 230.2 L1580 233 L1582.6 235.8 L1585.1 238.7 L1587.7 241.5 L1590.2 244.3 L1592.7 247.1 L1595.3 249.9 L1597.8 252.6 L1600.3 255.4 L1602.8 258.2 L1605.3 260.9 L1607.8 263.7 L1610.3 266.4 L1612.8 269.1 L1615.3 271.8 L1617.8 274.5 L1620.3 277.2 L1622.8 279.9 L1625.3 282.6 L1627.7 285.3 L1630.2 287.9 L1632.7 290.6 L1635.1 293.2 L1637.6 295.9 L1640 298.5 L1642.5 301.1 L1644.9 303.7 L1647.3 306.3 L1649.8 308.9 L1652.2 311.5 L1654.6 314.1 L1657 316.7 L1659.4 319.2 L1661.8 321.8 L1664.3 324.3 L1666.7 326.9 L1669 329.4 L1671.4 331.9 L1673.8 334.4 L1676.2 336.9 L1678.6 339.5 L1681 341.9 L1683.3 344.4 L1685.7 346.9 L1688.1 349.4 L1690.4 351.8 L1692.8 354.3 L1695.1 356.8 L1697.5 359.2 L1699.8 361.6 L1702.2 364.1 L1704.5 366.5 L1706.9 368.9 L1709.2 371.3 L1711.5 373.7 L1713.8 376.1 L1716.2 378.5 L1718.5 380.9 L1720.8 383.2 L1723.1 385.6 L1725.4 388 L1727.7 390.3 L1730 392.7 L1732.3 395 L1734.6 397.3 L1736.8 399.7 L1739.1 402 L1741.4 404.3 L1743.7 406.6 L1746 408.9 L1748.2 411.2 L1750.5 413.5 L1752.7 415.8 L1755 418 L1757.3 420.3 L1759.5 422.6 L1761.7 424.8 L1764 427.1 L1766.2 429.3 L1768.5 431.5 L1770.7 433.8 L1772.9 436 L1775.1 438.2 L1777.4 440.4 L1779.6 442.6 L1781.8 444.9 L1784 447 L1786.2 449.2 L1788.4 451.4 L1790.6 453.6 L1792.8 455.8 L1795 457.9 L1797.2 460.1 L1799.4 462.3 L1801.6 464.4 L1803.8 466.6 L1806 468.7 L1808.1 470.8 L1810.3 473 L1812.5 475.1 L1814.6 477.2 L1816.8 479.3 L1819 481.4 L1821.1 483.5 L1823.3 485.6 L1825.4 487.7 L1827.6 489.8 L1829.7 491.9 L1831.9 494 L1842.5 504.3 L1853.1 514.4 L1863.6 524.5 L1874 534.4 L1884.4 544.2 L1894.7 553.9 L1904.9 563.5 L1915.1 573 L1925.2 582.4 L1935.2 591.6 L1945.2 600.8 L1955.1 609.8 L1964.9 618.8 L1974.7 627.7 L1984.4 636.5 L1994 645.1 L2003.6 653.7 L2013.2 662.2 L2022.7 670.7 L2032.1 679 L2041.5 687.2 L2050.8 695.4 L2060 703.5 L2069.2 711.5 L2078.4 719.4 L2087.5 727.3 L2096.6 735.1 L2105.6 742.8 L2114.5 750.4 L2123.4 758 L2132.3 765.5 L2141.1 773 L2149.9 780.3 L2158.6 787.6 L2167.3 794.9 L2175.9 802.1 L2184.5 809.2 L2193 816.2 L2201.5 823.2 L2210 830.2 L2218.4 837 L2226.8 843.9 L2235.1 850.6 L2243.4 857.4 L2251.7 864 L2259.9 870.6 L2268.1 877.2 L2276.2 883.7 L2284.3 890.1 L2292.4 896.5 L2300.4 902.9 L2308.4 909.2 L2316.3 915.5 L2324.2 921.7 L2332.1 927.8 L2340 934 L2347.8 940 L2355.5 946.1 L2363.3 952 L2371 958 L2378.7 963.9 L2386.3 969.8 L2393.9 975.6 L2401.5 981.3 L2409 987.1 L2416.6 992.8 L2424 998.4 L2431.5 1004.1 L2438.9 1009.7 L2446.3 1015.2 L2453.7 1020.7 L2461 1026.2 L2468.3 1031.6 L2475.6 1037 L2482.8 1042.4 L2490.1 1047.7 L2497.2 1053 L2504.4 1058.3 L2511.5 1063.5 L2518.7 1068.7 L2525.7 1073.9 L2532.8 1079 L2539.8 1084.1 L2546.8 1089.2 L2553.8 1094.2 L2560.7 1099.2 L2567.7 1104.2 L2574.6 1109.2 L2581.4 1114.1 L2588.3 1119 L2595.1 1123.8 L2601.9 1128.7 L2608.7 1133.5 L2615.4 1138.3 L2622.2 1143 L2628.9 1147.7 L2635.6 1152.4 L2642.2 1157.1 L2648.8 1161.8 L2655.5 1166.4 L2662.1 1171 L2668.6 1175.5 L2675.2 1180.1 L2681.7 1184.6 L2688.2 1189.1 L2694.7 1193.6 L2701.1 1198 L2707.6 1202.4 L2714 1206.8 L2720.4 1211.2 L2726.8 1215.6 L2733.1 1219.9 L2739.4 1224.2 L2745.8 1228.5 L2752.1 1232.7 L2758.3 1237 L2764.6 1241.2 L2770.8 1245.4 L2777 1249.6 L2783.2 1253.7 L2789.4 1257.9 L2795.6 1262 L2801.7 1266.1 L2807.8 1270.2 L2813.9 1274.2 L2820 1278.3 L2826.1 1282.3 L2832.1 1286.3 L2838.2 1290.2 L2844.2 1294.2 M1556.1 104.2 L1559 107.5 L1561.9 110.8 L1564.8 114.1 L1567.6 117.4 L1570.5 120.6 L1573.3 123.9 L1576.2 127.1 L1579 130.3 L1581.8 133.6 L1584.7 136.7 L1587.5 139.9 L1590.3 143.1 L1593.1 146.3 L1595.9 149.4 L1598.7 152.5 L1601.5 155.7 L1604.3 158.8 L1607.1 161.9 L1609.8 165 L1612.6 168 L1615.4 171.1 L1618.1 174.2 L1620.9 177.2 L1623.6 180.2 L1626.3 183.3 L1629.1 186.3 L1631.8 189.3 L1634.5 192.3 L1637.2 195.2 L1639.9 198.2 L1642.7 201.2 L1645.4 204.1 L1648 207 L1650.7 210 L1653.4 212.9 L1656.1 215.8 L1658.8 218.7 L1661.4 221.6 L1664.1 224.4 L1666.8 227.3 L1669.4 230.2 L1672.1 233 L1674.7 235.8 L1677.3 238.7 L1680 241.5 L1682.6 244.3 L1685.2 247.1 L1687.8 249.9 L1690.5 252.6 L1693.1 255.4 L1695.7 258.2 L1698.3 260.9 L1700.9 263.7 L1703.5 266.4 L1706 269.1 L1708.6 271.8 L1711.2 274.5 L1713.8 277.2 L1716.3 279.9 L1718.9 282.6 L1721.4 285.3 L1724 287.9 L1726.5 290.6 L1729.1 293.2 L1731.6 295.9 L1734.2 298.5 L1736.7 301.1 L1739.2 303.7 L1741.7 306.3 L1744.2 308.9 L1746.8 311.5 L1749.3 314.1 L1751.8 316.7 L1754.3 319.2 L1756.7 321.8 L1759.2 324.3 L1761.7 326.9 L1764.2 329.4 L1766.7 331.9 L1769.1 334.4 L1771.6 336.9 L1774.1 339.5 L1776.5 341.9 L1779 344.4 L1781.4 346.9 L1783.9 349.4 L1786.3 351.8 L1788.8 354.3 L1791.2 356.8 L1793.6 359.2 L1796.1 361.6 L1798.5 364.1 L1800.9 366.5 L1803.3 368.9 L1805.7 371.3 L1808.1 373.7 L1810.5 376.1 L1812.9 378.5 L1815.3 380.9 L1817.7 383.2 L1820.1 385.6 L1822.5 388 L1824.9 390.3 L1827.2 392.7 L1829.6 395 L1832 397.3 L1834.3 399.7 L1836.7 402 L1839 404.3 L1841.4 406.6 L1843.7 408.9 L1846.1 411.2 L1848.4 413.5 L1850.8 415.8 L1853.1 418 L1855.4 420.3 L1857.8 422.6 L1860.1 424.8 L1862.4 427.1 L1864.7 429.3 L1867 431.5 L1869.3 433.8 L1871.6 436 L1873.9 438.2 L1876.2 440.4 L1878.5 442.6 L1880.8 444.9 L1883.1 447 L1885.4 449.2 L1887.7 451.4 L1889.9 453.6 L1892.2 455.8 L1894.5 457.9 L1896.8 460.1 L1899 462.3 L1901.3 464.4 L1903.5 466.6 L1905.8 468.7 L1908 470.8 L1910.3 473 L1912.5 475.1 L1914.8 477.2 L1917 479.3 L1919.2 481.4 L1921.5 483.5 L1923.7 485.6 L1925.9 487.7 L1928.1 489.8 L1930.3 491.9 L1932.6 494 L1943.6 504.3 L1954.5 514.4 L1965.4 524.5 L1976.2 534.4 L1986.9 544.2 L1997.5 553.9 L2008.1 563.5 L2018.6 573 L2029 582.4 L2039.4 591.6 L2049.7 600.8 L2059.9 609.8 L2070 618.8 L2080.1 627.7 L2090.2 636.5 L2100.1 645.1 L2110 653.7 L2119.9 662.2 L2129.7 670.7 L2139.4 679 L2149.1 687.2 L2158.7 695.4 L2168.3 703.5 L2177.8 711.5 L2187.2 719.4 L2196.6 727.3 L2206 735.1 L2215.3 742.8 L2224.5 750.4 L2233.7 758 L2242.9 765.5 L2252 773 L2261 780.3 L2270 787.6 L2279 794.9 L2287.9 802.1 L2296.8 809.2 L2305.6 816.2 L2314.3 823.2 L2323.1 830.2 L2331.8 837 L2340.4 843.9 L2349 850.6 L2357.6 857.4 L2366.1 864 L2374.5 870.6 L2383 877.2 L2391.4 883.7 L2399.7 890.1 L2408 896.5 L2416.3 902.9 L2424.6 909.2 L2432.8 915.5 L2440.9 921.7 L2449.1 927.8 L2457.1 934 L2465.2 940 L2473.2 946.1 L2481.2 952 L2489.2 958 L2497.1 963.9 L2505 969.8 L2512.8 975.6 L2520.6 981.3 L2528.4 987.1 L2536.2 992.8 L2543.9 998.4 L2551.6 1004.1 L2559.2 1009.7 L2566.8 1015.2 L2574.4 1020.7 L2582 1026.2 L2589.5 1031.6 L2597 1037 L2604.5 1042.4 L2611.9 1047.7 L2619.3 1053 L2626.7 1058.3 L2634.1 1063.5 L2641.4 1068.7 L2648.7 1073.9 L2656 1079 L2663.2 1084.1 L2670.4 1089.2 L2677.6 1094.2 L2684.8 1099.2 L2691.9 1104.2 L2699 1109.2 L2706.1 1114.1 L2713.2 1119 L2720.2 1123.8 L2727.2 1128.7 L2734.2 1133.5 L2741.2 1138.3 L2748.1 1143 L2755 1147.7 L2761.9 1152.4 L2768.8 1157.1 L2775.6 1161.8 L2782.4 1166.4 L2789.2 1171 L2796 1175.5 L2802.7 1180.1 L2809.4 1184.6 L2816.1 1189.1 L2822.8 1193.6 L2829.5 1198 L2836.1 1202.4 L2842.7 1206.8 L2849.3 1211.2 L2855.9 1215.6 L2862.4 1219.9 L2869 1224.2 L2875.5 1228.5 L2882 1232.7 L2888.4 1237 L2894.9 1241.2 L2901.3 1245.4 L2907.7 1249.6 L2914.1 1253.7 L2920.4 1257.9 L2926.8 1262 L2933.1 1266.1 L2939.4 1270.2 L2945.7 1274.2 L2952 1278.3 L2958.2 1282.3 L2964.4 1286.3 L2970.7 1290.2 L2976.8 1294.2 M1644.2 104.2 L1647.2 107.5 L1650.2 110.8 L1653.1 114.1 L1656.1 117.4 L1659 120.6 L1662 123.9 L1664.9 127.1 L1667.9 130.3 L1670.8 133.6 L1673.7 136.7 L1676.6 139.9 L1679.5 143.1 L1682.4 146.3 L1685.3 149.4 L1688.2 152.5 L1691.1 155.7 L1694 158.8 L1696.9 161.9 L1699.7 165 L1702.6 168 L1705.5 171.1 L1708.3 174.2 L1711.1 177.2 L1714 180.2 L1716.8 183.3 L1719.6 186.3 L1722.5 189.3 L1725.3 192.3 L1728.1 195.2 L1730.9 198.2 L1733.7 201.2 L1736.5 204.1 L1739.3 207 L1742.1 210 L1744.8 212.9 L1747.6 215.8 L1750.4 218.7 L1753.1 221.6 L1755.9 224.4 L1758.6 227.3 L1761.4 230.2 L1764.1 233 L1766.8 235.8 L1769.6 238.7 L1772.3 241.5 L1775 244.3 L1777.7 247.1 L1780.4 249.9 L1783.1 252.6 L1785.8 255.4 L1788.5 258.2 L1791.2 260.9 L1793.9 263.7 L1796.6 266.4 L1799.2 269.1 L1801.9 271.8 L1804.6 274.5 L1807.2 277.2 L1809.9 279.9 L1812.5 282.6 L1815.2 285.3 L1817.8 287.9 L1820.4 290.6 L1823.1 293.2 L1825.7 295.9 L1828.3 298.5 L1830.9 301.1 L1833.5 303.7 L1836.1 306.3 L1838.7 308.9 L1841.3 311.5 L1843.9 314.1 L1846.5 316.7 L1849.1 319.2 L1851.7 321.8 L1854.2 324.3 L1856.8 326.9 L1859.4 329.4 L1861.9 331.9 L1864.5 334.4 L1867 336.9 L1869.6 339.5 L1872.1 341.9 L1874.6 344.4 L1877.2 346.9 L1879.7 349.4 L1882.2 351.8 L1884.7 354.3 L1887.3 356.8 L1889.8 359.2 L1892.3 361.6 L1894.8 364.1 L1897.3 366.5 L1899.8 368.9 L1902.3 371.3 L1904.7 373.7 L1907.2 376.1 L1909.7 378.5 L1912.2 380.9 L1914.6 383.2 L1917.1 385.6 L1919.6 388 L1922 390.3 L1924.5 392.7 L1926.9 395 L1929.4 397.3 L1931.8 399.7 L1934.3 402 L1936.7 404.3 L1939.1 406.6 L1941.5 408.9 L1944 411.2 L1946.4 413.5 L1948.8 415.8 L1951.2 418 L1953.6 420.3 L1956 422.6 L1958.4 424.8 L1960.8 427.1 L1963.2 429.3 L1965.6 431.5 L1968 433.8 L1970.4 436 L1972.7 438.2 L1975.1 440.4 L1977.5 442.6 L1979.8 444.9 L1982.2 447 L1984.6 449.2 L1986.9 451.4 L1989.3 453.6 L1991.6 455.8 L1994 457.9 L1996.3 460.1 L1998.6 462.3 L2001 464.4 L2003.3 466.6 L2005.6 468.7 L2007.9 470.8 L2010.3 473 L2012.6 475.1 L2014.9 477.2 L2017.2 479.3 L2019.5 481.4 L2021.8 483.5 L2024.1 485.6 L2026.4 487.7 L2028.7 489.8 L2031 491.9 L2033.3 494 L2044.6 504.3 L2055.9 514.4 L2067.1 524.5 L2078.3 534.4 L2089.3 544.2 L2100.3 553.9 L2111.2 563.5 L2122.1 573 L2132.8 582.4 L2143.5 591.6 L2154.1 600.8 L2164.7 609.8 L2175.2 618.8 L2185.6 627.7 L2195.9 636.5 L2206.2 645.1 L2216.5 653.7 L2226.6 662.2 L2236.7 670.7 L2246.8 679 L2256.7 687.2 L2266.7 695.4 L2276.5 703.5 L2286.3 711.5 L2296.1 719.4 L2305.8 727.3 L2315.4 735.1 L2325 742.8 L2334.6 750.4 L2344 758 L2353.5 765.5 L2362.8 773 L2372.2 780.3 L2381.5 787.6 L2390.7 794.9 L2399.9 802.1 L2409 809.2 L2418.1 816.2 L2427.1 823.2 L2436.1 830.2 L2445.1 837 L2454 843.9 L2462.9 850.6 L2471.7 857.4 L2480.5 864 L2489.2 870.6 L2497.9 877.2 L2506.5 883.7 L2515.2 890.1 L2523.7 896.5 L2532.3 902.9 L2540.8 909.2 L2549.2 915.5 L2557.6 921.7 L2566 927.8 L2574.3 934 L2582.6 940 L2590.9 946.1 L2599.1 952 L2607.3 958 L2615.5 963.9 L2623.6 969.8 L2631.7 975.6 L2639.7 981.3 L2647.8 987.1 L2655.7 992.8 L2663.7 998.4 L2671.6 1004.1 L2679.5 1009.7 L2687.4 1015.2 L2695.2 1020.7 L2703 1026.2 L2710.7 1031.6 L2718.4 1037 L2726.1 1042.4 L2733.8 1047.7 L2741.4 1053 L2749 1058.3 L2756.6 1063.5 L2764.2 1068.7 L2771.7 1073.9 L2779.2 1079 L2786.6 1084.1 L2794.1 1089.2 L2801.5 1094.2 L2808.9 1099.2 L2816.2 1104.2 L2823.5 1109.2 L2830.8 1114.1 L2838.1 1119 L2845.3 1123.8 L2852.6 1128.7 L2859.7 1133.5 L2866.9 1138.3 L2874.1 1143 L2881.2 1147.7 L2888.3 1152.4 L2895.3 1157.1 L2902.4 1161.8 L2909.4 1166.4 L2916.4 1171 L2923.3 1175.5 L2930.3 1180.1 L2937.2 1184.6 L2944.1 1189.1 L2951 1193.6 L2957.8 1198 L2964.7 1202.4 L2971.5 1206.8 L2978.3 1211.2 L2985 1215.6 L2991.8 1219.9 L2998.5 1224.2 L3005.2 1228.5 L3011.8 1232.7 L3018.5 1237 L3025.1 1241.2 L3031.7 1245.4 L3038.3 1249.6 L3044.9 1253.7 L3051.5 1257.9 L3058 1262 L3064.5 1266.1 L3071 1270.2 L3077.5 1274.2 L3083.9 1278.3 L3090.3 1282.3 L3096.8 1286.3 L3103.1 1290.2 L3109.5 1294.2" stroke="#ffaa00"/>
<path d="M212 104.2 L218.3 120.6 L224.5 136.7 L230.7 152.5 L236.8 168 L242.9 183.3 L248.9 198.2 L254.9 212.9 L260.9 227.3 L266.8 241.5 L272.6 255.4 L278.4 269.1 L284.2 282.6 L289.9 295.9 L295.6 308.9 L301.2 321.8 L306.8 334.4 L312.3 346.9 L317.7 359.2 L323.2 371.3 L328.5 383.2 L333.8 395 L339.1 406.6 L344.3 418 L349.5 429.3 L354.6 440.4 L359.7 451.4 L364.7 462.3 L369.6 473 L374.5 483.5 L379.4 494 L384.2 504.3 L388.9 514.4 L393.6 524.5 L398.2 534.4 L402.8 544.2 L407.4 553.9 L411.8 563.5 L416.2 573 L420.6 582.4 L424.9 591.6 L429.2 600.8 L433.3 609.8 L437.5 618.8 L441.6 627.7 L445.6 636.5 L449.6 645.1 L453.5 653.7 L457.3 662.2 L461.1 670.7 L464.9 679 L468.7 687.2 L472.4 695.4 L476.1 703.5 L479.8 711.5 L483.4 719.4 L486.9 727.3 L490.4 735.1 L493.8 742.8 L497.2 750.4 L500.5 758 L503.7 765.5 L507 773 L510.1 780.3 L513.2 787.6 L516.3 794.9 L519.3 802.1 L522.3 809.2 L525.2 816.2 L528.1 823.2 L530.9 830.2 L533.7 837 L536.4 843.9 L539.1 850.6 L541.8 857.4 L544.4 864 L546.9 870.6 L549.5 877.2 L551.9 883.7 L554.4 890.1 L556.8 896.5 L559.1 902.9 L561.4 909.2 L563.7 915.5 L566 921.7 L568.2 927.8 L570.4 934 L572.5 940 L574.6 946.1 L576.7 952 L578.7 958 L580.8 963.9 L582.8 969.8 L584.9 975.6 L586.9 981.3 L588.8 987.1 L590.7 992.8 L592.6 998.4 L594.5 1004.1 L596.3 1009.7 L598.1 1015.2 L599.9 1020.7 L601.7 1026.2 L603.4 1031.6 L605.1 1037 L606.8 1042.4 L608.4 1047.7 L610.1 1053 L611.7 1058.3 L613.2 1063.5 L614.8 1068.7 L616.3 1073.9 L617.8 1079 L619.3 1084.1 L620.8 1089.2 L622.2 1094.2 L623.6 1099.2 L625 1104.2 L626.4 1109.2 L627.8 1114.1 L629.1 1119 L630.5 1123.8 L631.9 1128.7 L633.2 1133.5 L634.5 1138.3 L635.9 1143 L637.2 1147.7 L638.4 1152.4 L639.7 1157.1 L640.9 1161.8 L642.2 1166.4 L643.4 1171 L644.6 1175.5 L645.8 1180.1 L646.9 1184.6 L648.1 1189.1 L649.2 1193.6 L650.3 1198 L651.5 1202.4 L652.5 1206.8 L653.6 1211.2 L654.7 1215.6 L655.7 1219.9 L656.8 1224.2 L657.8 1228.5 L658.8 1232.7 L659.8 1237 L660.8 1241.2 L661.8 1245.4 L662.7 1249.6 L663.7 1253.7 L664.5 1257.9 L665.2 1262 L666 1266.1 L666.7 1270.2 L667.4 1274.2 L668.1 1278.3 L668.8 1282.3 L669.5 1286.3 L670.2 1290.2 L670.9 1294.2 M303.5 104.2 L310.1 120.6 L316.7 136.7 L323.2 152.5 L329.7 168 L336.1 183.3 L342.4 198.2 L348.7 212.9 L354.9 227.3 L361.1 241.5 L367.2 255.4 L373.2 269.1 L379.2 282.6 L385.1 295.9 L390.9 308.9 L396.7 321.8 L402.4 334.4 L408 346.9 L413.6 359.2 L419 371.3 L424.5 383.2 L429.8 395 L435.1 406.6 L440.3 418 L445.5 429.3 L450.6 440.4 L455.6 451.4 L460.5 462.3 L465.4 473 L470.2 483.5 L474.9 494 L479.5 504.3 L484.1 514.4 L488.6 524.5 L493 534.4 L497.4 544.2 L501.7 553.9 L505.9 563.5 L510 573 L514.1 582.4 L518.1 591.6 L522.1 600.8 L525.9 609.8 L529.7 618.8 L533.4 627.7 L537.1 636.5 L540.7 645.1 L544.2 653.7 L547.7 662.2 L551.1 670.7 L554.4 679 L557.8 687.2 L561.1 695.4 L564.4 703.5 L567.6 711.5 L570.8 719.4 L573.9 727.3 L576.9 735.1 L579.9 742.8 L582.8 750.4 L585.7 758 L588.5 765.5 L591.3 773 L594 780.3 L596.6 787.6 L599.2 794.9 L601.8 802.1 L604.3 809.2 L606.7 816.2 L609.1 823.2 L611.5 830.2 L613.8 837 L616.1 843.9 L618.3 850.6 L620.5 857.4 L622.7 864 L624.8 870.6 L626.8 877.2 L628.8 883.7 L630.8 890.1 L632.8 896.5 L634.7 902.9 L636.6 909.2 L638.4 915.5 L640.2 921.7 L642 927.8 L643.7 934 L645.5 940 L647.1 946.1 L648.8 952 L650.4 958 L652.1 963.9 L653.9 969.8 L655.5 975.6 L657.2 981.3 L658.8 987.1 L660.4 992.8 L662 998.4 L663.5 1004.1 L665.1 1009.7 L666.6 1015.2 L668 1020.7 L669.5 1026.2 L670.9 1031.6 L672.3 1037 L673.7 1042.4 L675 1047.7 L676.4 1053 L677.7 1058.3 L679 1063.5 L680.3 1068.7 L681.5 1073.9 L682.8 1079 L684 1084.1 L685.2 1089.2 L686.4 1094.2 L687.5 1099.2 L688.7 1104.2 L689.8 1109.2 L690.9 1114.1 L692 1119 L693 1123.8 L693.9 1128.7 L694.8 1133.5 L695.7 1138.3 L696.6 1143 L697.5 1147.7 L698.4 1152.4 L699.3 1157.1 L700.1 1161.8 L700.9 1166.4 L701.8 1171 L702.6 1175.5 L703.4 1180.1 L704.2 1184.6 L704.9 1189.1 L705.7 1193.6 L706.4 1198 L707.2 1202.4 L707.9 1206.8 L708.6 1211.2 L709.3 1215.6 L710 1219.9 L710.7 1224.2 L711.4 1228.5 L712.1 1232.7 L712.7 1237 L713.4 1241.2 L714 1245.4 L714.7 1249.6 L715.3 1253.7 L716 1257.9 L716.8 1262 L717.5 1266.1 L718.2 1270.2 L718.9 1274.2 L719.6 1278.3 L720.3 1282.3 L721 1286.3 L721.6 1290.2 L722.3 1294.2 M408 104.2 L415 120.6 L422 136.7 L428.8 152.5 L435.6 168 L442.3 183.3 L448.9 198.2 L455.4 212.9 L461.8 227.3 L468.2 241.5 L474.4 255.4 L480.5 269.1 L486.5 282.6 L492.4 295.9 L498.2 308.9 L503.9 321.8 L509.5 334.4 L515.1 346.9 L520.5 359.2 L525.8 371.3 L531 383.2 L536.2 395 L541.2 406.6 L546.1 418 L551 429.3 L555.7 440.4 L560.4 451.4 L564.9 462.3 L569.4 473 L573.7 483.5 L578 494 L582.3 504.3 L586.6 514.4 L590.8 524.5 L594.8 534.4 L598.8 544.2 L602.7 553.9 L606.5 563.5 L610.2 573 L613.8 582.4 L617.4 591.6 L620.9 600.8 L624.3 609.8 L627.6 618.8 L630.8 627.7 L634 636.5 L637 645.1 L640.1 653.7 L643 662.2 L645.9 670.7 L648.7 679 L651.4 687.2 L654 695.4 L656.6 703.5 L659.1 711.5 L661.6 719.4 L664 727.3 L666.3 735.1 L668.6 742.8 L670.8 750.4 L673 758 L675.2 765.5 L677.2 773 L679.3 780.3 L681.3 787.6 L683.2 794.9 L685.1 802.1 L687 809.2 L688.8 816.2 L690.5 823.2 L692.3 830.2 L694 837 L695.6 843.9 L697.2 850.6 L698.8 857.4 L700.4 864 L701.9 870.6 L703.4 877.2 L704.8 883.7 L706.2 890.1 L707.6 896.5 L709 902.9 L710.3 909.2 L711.6 915.5 L712.9 921.7 L714.1 927.8 L715.4 934 L716.6 940 L717.7 946.1 L718.9 952 L720 958 L721.2 963.9 L722.4 969.8 L723.6 975.6 L724.8 981.3 L725.9 987.1 L727 992.8 L728.1 998.4 L729.2 1004.1 L730.2 1009.7 L731.3 1015.2 L732.3 1020.7 L733.3 1026.2 L734.3 1031.6 L735.2 1037 L736.2 1042.4 L737.1 1047.7 L738 1053 L738.9 1058.3 L739.8 1063.5 L740.7 1068.7 L741.5 1073.9 L742.4 1079 L743.2 1084.1 L744 1089.2 L744.8 1094.2 L745.6 1099.2 L746.4 1104.2 L747.1 1109.2 L747.9 1114.1 L748.6 1119 L749.4 1123.8 L750.2 1128.7 L750.9 1133.5 L751.7 1138.3 L752.4 1143 L753.1 1147.7 L753.8 1152.4 L754.5 1157.1 L755.2 1161.8 L755.9 1166.4 L756.6 1171 L757.3 1175.5 L757.9 1180.1 L758.6 1184.6 L759.2 1189.1 L759.8 1193.6 L760.5 1198 L761.1 1202.4 L761.7 1206.8 L762.3 1211.2 L762.9 1215.6 L763.4 1219.9 L764 1224.2 L764.6 1228.5 L765.1 1232.7 L765.7 1237 L766.2 1241.2 L766.8 1245.4 L767.3 1249.6 L767.8 1253.7 L768.4 1257.9 L768.9 1262 L769.5 1266.1 L770 1270.2 L770.6 1274.2 L771.1 1278.3 L771.6 1282.3 L772.2 1286.3 L772.7 1290.2 L773.2 1294.2 M526 104.2 L533 120.6 L540 136.7 L546.7 152.5 L553.4 168 L559.9 183.3 L566.3 198.2 L572.5 212.9 L578.6 227.3 L584.6 241.5 L590.4 255.4 L596.2 269.1 L601.9 282.6 L607.4 295.9 L612.8 308.9 L618 321.8 L623.2 334.4 L628.2 346.9 L633 359.2 L637.7 371.3 L642.3 383.2 L646.8 395 L651.1 406.6 L655.3 418 L659.5 429.3 L663.4 440.4 L667.3 451.4 L671.1 462.3 L674.7 473 L678.3 483.5 L681.7 494 L685.5 504.3 L689.2 514.4 L692.8 524.5 L696.2 534.4 L699.6 544.2 L702.9 553.9 L706.1 563.5 L709.3 573 L712.3 582.4 L715.2 591.6 L718.1 600.8 L720.9 609.8 L723.6 618.8 L726.3 627.7 L728.9 636.5 L731.4 645.1 L733.8 653.7 L736.2 662.2 L738.5 670.7 L740.8 679 L742.7 687.2 L744.6 695.4 L746.4 703.5 L748.2 711.5 L749.9 719.4 L751.6 727.3 L753.3 735.1 L754.8 742.8 L756.4 750.4 L757.9 758 L759.4 765.5 L760.8 773 L762.2 780.3 L763.5 787.6 L764.9 794.9 L766.1 802.1 L767.4 809.2 L768.6 816.2 L769.8 823.2 L771 830.2 L772.1 837 L773.2 843.9 L774.3 850.6 L775.3 857.4 L776.3 864 L777.3 870.6 L778.3 877.2 L779.3 883.7 L780.2 890.1 L781.1 896.5 L782 902.9 L782.8 909.2 L783.7 915.5 L784.5 921.7 L785.3 927.8 L786.1 934 L786.8 940 L787.6 946.1 L788.3 952 L789 958 L789.8 963.9 L790.5 969.8 L791.3 975.6 L792 981.3 L792.7 987.1 L793.4 992.8 L794.1 998.4 L794.8 1004.1 L795.5 1009.7 L796.1 1015.2 L796.7 1020.7 L797.4 1026.2 L798 1031.6 L798.6 1037 L799.2 1042.4 L799.7 1047.7 L800.3 1053 L800.8 1058.3 L801.4 1063.5 L801.9 1068.7 L802.4 1073.9 L802.9 1079 L803.4 1084.1 L803.9 1089.2 L804.4 1094.2 L804.9 1099.2 L805.4 1104.2 L805.8 1109.2 L806.3 1114.1 L806.7 1119 L807.3 1123.8 L807.8 1128.7 L808.4 1133.5 L808.9 1138.3 L809.4 1143 L810 1147.7 L810.5 1152.4 L811 1157.1 L811.5 1161.8 L812 1166.4 L812.4 1171 L812.9 1175.5 L813.4 1180.1 L813.9 1184.6 L814.3 1189.1 L814.8 1193.6 L815.2 1198 L815.7 1202.4 L816.1 1206.8 L816.5 1211.2 L816.9 1215.6 L817.4 1219.9 L817.8 1224.2 L818.2 1228.5 L818.6 1232.7 L819 1237 L819.4 1241.2 L819.7 1245.4 L820.1 1249.6 L820.5 1253.7 L820.9 1257.9 L821.4 1262 L821.8 1266.1 L822.2 1270.2 L822.6 1274.2 L823 1278.3 L823.4 1282.3 L823.8 1286.3 L824.2 1290.2 L824.6 1294.2 M655 104.2 L661.9 120.6 L668.6 136.7 L675.1 152.5 L681.4 168 L687.5 183.3 L693.4 198.2 L699.1 212.9 L704.6 227.3 L709.9 241.5 L715 255.4 L719.9 269.1 L724.7 282.6 L729.3 295.9 L733.7 308.9 L737.9 321.8 L742 334.4 L746 346.9 L749.8 359.2 L753.5 371.3 L757 383.2 L760.4 395 L763.7 406.6 L766.9 418 L769.9 429.3 L772.8 440.4 L775.7 451.4 L778.4 462.3 L781 473 L783.6 483.5 L786 494 L788.5 504.3 L790.9 514.4 L793.2 524.5 L795.5 534.4 L797.6 544.2 L799.7 553.9 L801.7 563.5 L803.7 573 L805.6 582.4 L807.4 591.6 L809.2 600.8 L810.9 609.8 L812.6 618.8 L814.2 627.7 L815.7 636.5 L817.2 645.1 L818.7 653.7 L820.1 662.2 L821.5 670.7 L822.8 679 L824.1 687.2 L825.4 695.4 L826.6 703.5 L827.8 711.5 L828.9 719.4 L830 727.3 L831.1 735.1 L832.1 742.8 L833.2 750.4 L834.1 758 L835.1 765.5 L836 773 L836.9 780.3 L837.8 787.6 L838.7 794.9 L839.5 802.1 L840.3 809.2 L841.1 816.2 L841.9 823.2 L842.6 830.2 L843.3 837 L844 843.9 L844.7 850.6 L845.4 857.4 L846 864 L846.7 870.6 L847.3 877.2 L847.9 883.7 L848.5 890.1 L849 896.5 L849.6 902.9 L850.1 909.2 L850.7 915.5 L851.2 921.7 L851.7 927.8 L852.2 934 L852.6 940 L853.1 946.1 L853.6 952 L854 958 L854.5 963.9 L855 969.8 L855.4 975.6 L855.9 981.3 L856.3 987.1 L856.8 992.8 L857.2 998.4 L857.6 1004.1 L858 1009.7 L858.4 1015.2 L858.8 1020.7 L859.2 1026.2 L859.5 1031.6 L859.9 1037 L860.3 1042.4 L860.6 1047.7 L860.9 1053 L861.3 1058.3 L861.6 1063.5 L861.9 1068.7 L862.2 1073.9 L862.5 1079 L862.8 1084.1 L863.1 1089.2 L863.4 1094.2 L863.7 1099.2 L864 1104.2 L864.3 1109.2 L864.5 1114.1 L864.8 1119 L865.1 1123.8 L865.4 1128.7 L865.8 1133.5 L866.1 1138.3 L866.4 1143 L866.7 1147.7 L867 1152.4 L867.3 1157.1 L867.6 1161.8 L867.8 1166.4 L868.1 1171 L868.4 1175.5 L868.7 1180.1 L868.9 1184.6 L869.2 1189.1 L869.5 1193.6 L869.7 1198 L870 1202.4 L870.2 1206.8 L870.5 1211.2 L870.7 1215.6 L870.9 1219.9 L871.2 1224.2 L871.4 1228.5 L871.6 1232.7 L871.8 1237 L872.1 1241.2 L872.3 1245.4 L872.5 1249.6 L872.7 1253.7 L873 1257.9 L873.2 1262 L873.5 1266.1 L873.8 1270.2 L874 1274.2 L874.3 1278.3 L874.6 1282.3 L874.8 1286.3 L875.1 1290.2 L875.3 1294.2 M792 104.2 L797.7 120.6 L803.1 136.7 L808.3 152.5 L813.2 168 L817.9 183.3 L822.4 198.2 L826.7 212.9 L830.8 227.3 L834.7 241.5 L838.4 255.4 L842 269.1 L845.4 282.6 L848.6 295.9 L851.8 308.9 L854.7 321.8 L857.6 334.4 L860.3 346.9 L862.9 359.2 L865.4 371.3 L867.8 383.2 L870.1 395 L872.3 406.6 L874.4 418 L876.4 429.3 L878.4 440.4 L880.2 451.4 L882 462.3 L883.8 473 L885.4 483.5 L887 494 L888.3 504.3 L889.6 514.4 L890.8 524.5 L892 534.4 L893.1 544.2 L894.2 553.9 L895.2 563.5 L896.2 573 L897.2 582.4 L898.1 591.6 L899 600.8 L899.8 609.8 L900.6 618.8 L901.4 627.7 L902.2 636.5 L902.9 645.1 L903.6 653.7 L904.2 662.2 L904.9 670.7 L905.5 679 L906.1 687.2 L906.6 695.4 L907.1 703.5 L907.6 711.5 L908.1 719.4 L908.5 727.3 L909 735.1 L909.4 742.8 L909.8 750.4 L910.2 758 L910.6 765.5 L910.9 773 L911.2 780.3 L911.6 787.6 L911.9 794.9 L912.2 802.1 L912.5 809.2 L912.8 816.2 L913 823.2 L913.3 830.2 L913.5 837 L913.7 843.9 L914 850.6 L914.2 857.4 L914.4 864 L914.6 870.6 L914.8 877.2 L914.9 883.7 L915.1 890.1 L915.3 896.5 L915.4 902.9 L915.6 909.2 L915.7 915.5 L915.8 921.7 L916 927.8 L916.1 934 L916.2 940 L916.3 946.1 L916.4 952 L916.5 958 L916.7 963.9 L916.9 969.8 L917.1 975.6 L917.3 981.3 L917.5 987.1 L917.7 992.8 L917.9 998.4 L918 1004.1 L918.2 1009.7 L918.4 1015.2 L918.5 1020.7 L918.7 1026.2 L918.8 1031.6 L919 1037 L919.1 1042.4 L919.2 1047.7 L919.4 1053 L919.5 1058.3 L919.6 1063.5 L919.8 1068.7 L919.9 1073.9 L920 1079 L920.1 1084.1 L920.2 1089.2 L920.3 1094.2 L920.4 1099.2 L920.5 1104.2 L920.6 1109.2 L920.7 1114.1 L920.8 1119 L920.9 1123.8 L921.1 1128.7 L921.2 1133.5 L921.4 1138.3 L921.5 1143 L921.6 1147.7 L921.7 1152.4 L921.9 1157.1 L922 1161.8 L922.1 1166.4 L922.2 1171 L922.3 1175.5 L922.5 1180.1 L922.6 1184.6 L922.7 1189.1 L922.8 1193.6 L922.9 1198 L923 1202.4 L923.1 1206.8 L923.2 1211.2 L923.3 1215.6 L923.4 1219.9 L923.5 1224.2 L923.6 1228.5 L923.7 1232.7 L923.8 1237 L923.8 1241.2 L923.9 1245.4 L924 1249.6 L924.1 1253.7 L924.3 1257.9 L924.5 1262 L924.8 1266.1 L925 1270.2 L925.2 1274.2 L925.4 1278.3 L925.6 1282.3 L925.8 1286.3 L926 1290.2 L926.2 1294.2 M932 104.2 L935.2 120.6 L938.2 136.7 L941.1 152.5 L943.8 168 L946.3 183.3 L948.7 198.2 L951 212.9 L953.1 227.3 L955.1 241.5 L957 255.4 L958.6 269.1 L960.1 282.6 L961.5 295.9 L962.9 308.9 L964.1 321.8 L965.3 334.4 L966.4 346.9 L967.5 359.2 L968.5 371.3 L969.4 383.2 L970.3 395 L971.1 406.6 L971.9 418 L972.7 429.3 L973.4 440.4 L974 451.4 L974.6 462.3 L975.2 473 L975.8 483.5 L976.3 494 L976.7 504.3 L977 514.4 L977.3 524.5 L977.6 534.4 L977.8 544.2 L978 553.9 L978.2 563.5 L978.4 573 L978.6 582.4 L978.8 591.6 L978.9 600.8 L979 609.8 L979.1 618.8 L979.2 627.7 L979.3 636.5 L979.4 645.1 L979.4 653.7 L979.5 662.2 L979.5 670.7 L979.5 679 L979.6 687.2 L979.6 695.4 L979.7 703.5 L979.7 711.5 L979.8 719.4 L979.8 727.3 L979.8 735.1 L979.8 742.8 L979.8 750.4 L979.8 758 L979.8 765.5 L979.8 773 L979.7 780.3 L979.7 787.6 L979.7 794.9 L979.6 802.1 L979.6 809.2 L979.5 816.2 L979.5 823.2 L979.4 830.2 L979.3 837 L979.3 843.9 L979.2 850.6 L979.1 857.4 L979 864 L979 870.6 L978.9 877.2 L978.8 883.7 L978.7 890.1 L978.6 896.5 L978.5 902.9 L978.4 909.2 L978.3 915.5 L978.2 921.7 L978.1 927.8 L978 934 L977.8 940 L977.7 946.1 L977.6 952 L977.5 958 L977.5 963.9 L977.5 969.8 L977.5 975.6 L977.4 981.3 L977.4 987.1 L977.4 992.8 L977.4 998.4 L977.3 1004.1 L977.3 1009.7 L977.3 1015.2 L977.2 1020.7 L977.2 1026.2 L977.2 1031.6 L977.1 1037 L977.1 1042.4 L977.1 1047.7 L977 1053 L977 1058.3 L976.9 1063.5 L976.9 1068.7 L976.8 1073.9 L976.8 1079 L976.8 1084.1 L976.7 1089.2 L976.7 1094.2 L976.6 1099.2 L976.6 1104.2 L976.5 1109.2 L976.5 1114.1 L976.4 1119 L976.4 1123.8 L976.5 1128.7 L976.5 1133.5 L976.5 1138.3 L976.5 1143 L976.5 1147.7 L976.6 1152.4 L976.6 1157.1 L976.6 1161.8 L976.6 1166.4 L976.6 1171 L976.6 1175.5 L976.7 1180.1 L976.7 1184.6 L976.7 1189.1 L976.7 1193.6 L976.7 1198 L976.7 1202.4 L976.7 1206.8 L976.7 1211.2 L976.7 1215.6 L976.8 1219.9 L976.8 1224.2 L976.8 1228.5 L976.8 1232.7 L976.8 1237 L976.8 1241.2 L976.8 1245.4 L976.8 1249.6 L976.8 1253.7 L976.9 1257.9 L976.9 1262 L977 1266.1 L977 1270.2 L977.1 1274.2 L977.2 1278.3 L977.2 1282.3 L977.3 1286.3 L977.3 1290.2 L977.4 1294.2" stroke="#88dd00"/>
</g>
<path clip-path="url(#fc)" d="M334.8 1253.7 L337.5 1245.4 L340.2 1237 L342.9 1228.5 L345.6 1219.9 L348.4 1211.2 L351.2 1202.4 L354 1193.6 L356.8 1184.6 L359.7 1175.5 L362.7 1166.4 L365.6 1157.1 L368.6 1147.7 L371.7 1138.3 L374.7 1128.7 L377.8 1119 L381 1109.2 L384.2 1099.2 L387.4 1089.2 L390.7 1079 L394 1068.7 L397.4 1058.3 L400.8 1047.7 L404.2 1037 L407.7 1026.2 L411.3 1015.2 L414.9 1004.1 L418.5 992.8 L422.2 981.3 L426 969.8 L429.8 958 L433.7 946.1 L437.6 934 L441.6 921.7 L445.6 909.2 L449.8 896.5 L454 883.7 L458.2 870.6 L462.5 857.4 L467 843.9 L471.4 830.2 L476 816.2 L480.6 802.1 L485.4 787.6 L490.2 773 L495.1 758 L500.1 742.8 L505.2 727.3 L510.4 711.5 L515.7 695.4 L521.2 679 L526.7 662.2 L532.4 645.1 L538.2 627.7 L544.1 609.8 L550.1 591.6 L556.3 573 L562.7 553.9 L569.2 534.4 L575.8 514.4 L582.7 494 M446.7 1253.7 L449.2 1245.4 L451.7 1237 L454.3 1228.5 L456.9 1219.9 L459.6 1211.2 L462.3 1202.4 L465 1193.6 L467.7 1184.6 L470.5 1175.5 L473.2 1166.4 L476.1 1157.1 L478.9 1147.7 L481.8 1138.3 L484.8 1128.7 L487.8 1119 L490.8 1109.2 L493.8 1099.2 L496.9 1089.2 L500 1079 L503.2 1068.7 L506.4 1058.3 L509.7 1047.7 L513 1037 L516.3 1026.2 L519.7 1015.2 L523.2 1004.1 L526.7 992.8 L530.2 981.3 L533.8 969.8 L537.5 958 L541.2 946.1 L544.9 934 L548.8 921.7 L552.7 909.2 L556.6 896.5 L560.6 883.7 L564.7 870.6 L568.9 857.4 L573.1 843.9 L577.4 830.2 L581.8 816.2 L586.2 802.1 L590.8 787.6 L595.4 773 L600.1 758 L604.9 742.8 L609.8 727.3 L614.8 711.5 L619.9 695.4 L625.1 679 L630.4 662.2 L635.9 645.1 L641.5 627.7 L647.1 609.8 L653 591.6 L658.9 573 L665 553.9 L671.3 534.4 L677.7 514.4 L684.3 494 M516 1253.7 L518.4 1245.4 L520.9 1237 L523.4 1228.5 L525.9 1219.9 L528.5 1211.2 L531.1 1202.4 L533.7 1193.6 L536.4 1184.6 L539 1175.5 L541.8 1166.4 L544.5 1157.1 L547.3 1147.7 L550.1 1138.3 L552.9 1128.7 L555.8 1119 L558.8 1109.2 L561.7 1099.2 L564.7 1089.2 L567.8 1079 L570.8 1068.7 L574 1058.3 L577.1 1047.7 L580.3 1037 L583.6 1026.2 L586.9 1015.2 L590.2 1004.1 L593.6 992.8 L597.1 981.3 L600.6 969.8 L604.1 958 L607.7 946.1 L611.4 934 L615.1 921.7 L618.9 909.2 L622.7 896.5 L626.6 883.7 L630.6 870.6 L634.6 857.4 L638.8 843.9 L642.9 830.2 L647.2 816.2 L651.5 802.1 L656 787.6 L660.5 773 L665 758 L669.7 742.8 L674.5 727.3 L679.4 711.5 L684.3 695.4 L689.4 679 L694.6 662.2 L699.9 645.1 L705.3 627.7 L710.9 609.8 L716.5 591.6 L722.3 573 L728.3 553.9 L734.4 534.4 L740.7 514.4 L747.1 494 M607.6 1253.7 L610 1245.4 L612.4 1237 L614.8 1228.5 L617.2 1219.9 L619.6 1211.2 L622.1 1202.4 L624.6 1193.6 L627.2 1184.6 L629.7 1175.5 L632.3 1166.4 L635 1157.1 L637.6 1147.7 L640.3 1138.3 L643.1 1128.7 L645.8 1119 L648.6 1109.2 L651.5 1099.2 L654.4 1089.2 L657.3 1079 L660.2 1068.7 L663.2 1058.3 L666.3 1047.7 L669.3 1037 L672.5 1026.2 L675.6 1015.2 L678.8 1004.1 L682.1 992.8 L685.4 981.3 L688.8 969.8 L692.2 958 L695.7 946.1 L699.2 934 L702.8 921.7 L706.4 909.2 L710.1 896.5 L713.8 883.7 L717.7 870.6 L721.5 857.4 L725.5 843.9 L729.5 830.2 L733.6 816.2 L737.8 802.1 L742.1 787.6 L746.4 773 L750.8 758 L755.3 742.8 L759.9 727.3 L764.6 711.5 L769.4 695.4 L774.3 679 L779.3 662.2 L784.4 645.1 L789.6 627.7 L795 609.8 L800.4 591.6 L806.1 573 L811.8 553.9 L817.7 534.4 L823.7 514.4 L829.9 494 M696.5 1253.7 L698.7 1245.4 L701 1237 L703.3 1228.5 L705.6 1219.9 L708 1211.2 L710.3 1202.4 L712.7 1193.6 L715.2 1184.6 L717.6 1175.5 L720.1 1166.4 L722.6 1157.1 L725.2 1147.7 L727.8 1138.3 L730.4 1128.7 L733 1119 L735.7 1109.2 L738.4 1099.2 L741.2 1089.2 L744 1079 L746.8 1068.7 L749.7 1058.3 L752.6 1047.7 L755.5 1037 L758.5 1026.2 L761.6 1015.2 L764.6 1004.1 L767.8 992.8 L771 981.3 L774.2 969.8 L777.4 958 L780.8 946.1 L784.2 934 L787.6 921.7 L791.1 909.2 L794.6 896.5 L798.2 883.7 L801.9 870.6 L805.6 857.4 L809.4 843.9 L813.3 830.2 L817.2 816.2 L821.3 802.1 L825.4 787.6 L829.5 773 L833.8 758 L838.1 742.8 L842.5 727.3 L847 711.5 L851.7 695.4 L856.4 679 L861.2 662.2 L866.1 645.1 L871.1 627.7 L876.3 609.8 L881.6 591.6 L887 573 L892.5 553.9 L898.2 534.4 L904 514.4 L910 494 M776.7 1253.7 L778.8 1245.4 L781 1237 L783.2 1228.5 L785.4 1219.9 L787.7 1211.2 L789.9 1202.4 L792.2 1193.6 L794.6 1184.6 L796.9 1175.5 L799.3 1166.4 L801.7 1157.1 L804.2 1147.7 L806.6 1138.3 L809.1 1128.7 L811.7 1119 L814.3 1109.2 L816.9 1099.2 L819.5 1089.2 L822.2 1079 L824.9 1068.7 L827.7 1058.3 L830.5 1047.7 L833.3 1037 L836.2 1026.2 L839.1 1015.2 L842 1004.1 L845 992.8 L848.1 981.3 L851.2 969.8 L854.3 958 L857.5 946.1 L860.8 934 L864.1 921.7 L867.4 909.2 L870.9 896.5 L874.3 883.7 L877.9 870.6 L881.4 857.4 L885.1 843.9 L888.8 830.2 L892.6 816.2 L896.5 802.1 L900.4 787.6 L904.4 773 L908.5 758 L912.7 742.8 L917 727.3 L921.3 711.5 L925.8 695.4 L930.3 679 L935 662.2 L939.7 645.1 L944.6 627.7 L949.5 609.8 L954.6 591.6 L959.8 573 L965.2 553.9 L970.7 534.4 L976.3 514.4 L982.1 494 M882.4 1253.7 L884.4 1245.4 L886.5 1237 L888.5 1228.5 L890.6 1219.9 L892.7 1211.2 L894.9 1202.4 L897 1193.6 L899.2 1184.6 L901.4 1175.5 L903.7 1166.4 L905.9 1157.1 L908.3 1147.7 L910.6 1138.3 L912.9 1128.7 L915.3 1119 L917.8 1109.2 L920.2 1099.2 L922.7 1089.2 L925.2 1079 L927.8 1068.7 L930.4 1058.3 L933 1047.7 L935.7 1037 L938.4 1026.2 L941.2 1015.2 L944 1004.1 L946.8 992.8 L949.7 981.3 L952.6 969.8 L955.6 958 L958.6 946.1 L961.7 934 L964.8 921.7 L968 909.2 L971.2 896.5 L974.5 883.7 L977.8 870.6 L981.2 857.4 L984.7 843.9 L988.2 830.2 L991.8 816.2 L995.5 802.1 L999.2 787.6 L1003 773 L1006.9 758 L1010.9 742.8 L1014.9 727.3 L1019.1 711.5 L1023.3 695.4 L1027.6 679 L1032 662.2 L1036.5 645.1 L1041.1 627.7 L1045.9 609.8 L1050.7 591.6 L1055.7 573 L1060.8 553.9 L1066 534.4 L1071.3 514.4 L1076.9 494" fill="none" stroke="#88dd00" stroke-width="1" stroke-dasharray="5 7.6" shape-rendering="crispEdges"/>
<path d="M97.5 104.5 L1009.5 104.5 L1009.5 494.5 L1141.5 729 L1215.5 863 L1215.5 1294.5 L97.5 1294.5Z" fill="none" stroke="#000" stroke-width="1"/>
<path d="M98 136 V1241" stroke="#00aa00" stroke-width="2"/>
<path d="M470.4 136.4 L480 165 L493 201 L498 230 L502.4 254 L501 274 L499.6 310 L490 345 L480 380 L471.1 409.9 L449.8 493.1 L428.7 600 L409.9 681.7 L401.1 700 L373.5 747.8 L229.9 845.2 L259.1 880.7 L306.9 907.4 L365 951.2 L397.5 960 L442.5 972.5 L495 981.2 L522.5 987.5 L555 998.8 L576.2 1003.8 L597.5 1020 L607.5 1036.2 L608.8 1075 L605 1100 L597.5 1130 L588.8 1175 L584.5 1202.5 L585 1225 L590 1235 L597.5 1238.8 L613.8 1240.5" fill="none" stroke="#0066ff" stroke-width="2.6" stroke-linejoin="round"/>
<path d="M543.2 137.3 C546.5 147.5 556.4 178.5 562.9 198.2 C569.4 217.8 573.3 229.6 582.5 255.2 C591.7 280.8 606.8 323 617.9 351.5 C629 380 638.8 401.4 649.3 426.1 C659.8 450.9 671.4 478.9 680.7 500 C690 521.1 696.5 534.2 705 553 C713.5 571.8 723.3 591.7 732 612.6 C740.7 633.5 749.8 655.6 757.1 678.6 C764.4 701.6 771.2 729.6 776 750.8 C780.8 772 783.5 787.8 786 806 C788.5 824.2 789.7 843.7 791 860 C792.3 876.3 794 890.7 794 904 C794 917.3 791.8 930 791 940 C790.2 950 789.2 955.3 789 964 C788.8 972.7 789 982.7 790 992 C791 1001.3 793.3 1012.7 795 1020 C796.7 1027.3 798.1 1030.7 800.4 1035.7 C802.7 1040.7 804.5 1043.2 809 1050 C813.5 1056.8 818.3 1064.3 827.1 1076.6 C835.9 1088.9 852.9 1111.7 861.7 1123.7 C870.5 1135.7 874.2 1141.3 880 1148.6 C885.8 1155.9 889.2 1159 896.3 1167.7 C903.4 1176.4 913.1 1189.6 922.4 1200.5 C931.7 1211.4 946.3 1226.9 952.3 1233.1 C958.3 1239.2 955.9 1236.2 958.6 1237.4 C961.4 1238.7 967.1 1240.1 968.8 1240.6" fill="none" stroke="#ff0000" stroke-width="2.4" stroke-linejoin="round"/>
<path d="M969.2 1240.3 L940.5 1207.2 L890.2 1147.5 L857 1108 L825.6 1067.1 L801 1036" fill="none" stroke="#660077" stroke-width="2" stroke-dasharray="18 8"/>
<circle cx="699.8" cy="1240.6" r="5" fill="#0066ff"/>
<circle cx="977.4" cy="1240.6" r="5" fill="#ff0000"/>
<g font-family="Liberation Sans, sans-serif">
<text x="57.5" y="71.5" font-size="35.5" fill="#000" text-anchor="start" textLength="205" lengthAdjust="spacingAndGlyphs" stroke="#000" stroke-width="1.1" >#4: Robertson</text>
<text x="272.5" y="65.7" font-size="20" fill="#000" text-anchor="start" textLength="233" lengthAdjust="spacingAndGlyphs" stroke="#000" stroke-width="0.5" >-33.8117°,19.903° (54,32)</text>
<text x="536" y="71.5" font-size="35.5" fill="#000" text-anchor="start" textLength="220" lengthAdjust="spacingAndGlyphs" stroke="#000" stroke-width="1.1" >Valid 1400 LST</text>
<text x="766.5" y="68" font-size="24.5" fill="#000" text-anchor="start" textLength="84" lengthAdjust="spacingAndGlyphs" stroke="#000" stroke-width="0.9" >(1200Z)</text>
<text x="862" y="71.5" font-size="35.5" fill="#000" text-anchor="start" textLength="254.5" lengthAdjust="spacingAndGlyphs" stroke="#000" stroke-width="1.1" >SAT 16 Dec 2023</text>
<text x="1126.5" y="67.2" font-size="24.5" fill="#000" text-anchor="start" textLength="200.5" lengthAdjust="spacingAndGlyphs" stroke="#000" stroke-width="0.9" >[12hrFcst@0522z]</text>
<text x="460.5" y="98.2" font-size="19" fill="#a0003c" text-anchor="start" textLength="467" lengthAdjust="spacingAndGlyphs" font-weight="bold">Plcl=678 Tlcl[C]=-1 Shox=11 Pwat[cm]=1 Cape[J]= 54</text>
<text x="84.5" y="100.2" font-size="19" fill="#00aa00" text-anchor="start" textLength="27" lengthAdjust="spacingAndGlyphs" stroke="#00aa00" stroke-width="0.5" >0.0</text>
<text x="84.5" y="124.2" font-size="19" fill="#000" text-anchor="start" textLength="27" lengthAdjust="spacingAndGlyphs" stroke="#000" stroke-width="0.5" >0.0</text>
<text x="84.5" y="1291.9" font-size="19" fill="#00aa00" text-anchor="start" textLength="27" lengthAdjust="spacingAndGlyphs" stroke="#00aa00" stroke-width="0.5" >0.0</text>
<text x="84.5" y="1313.7" font-size="19" fill="#000" text-anchor="start" textLength="27" lengthAdjust="spacingAndGlyphs" stroke="#000" stroke-width="0.5" >0.0</text>
<text x="132.5" y="100.2" font-size="19" fill="#00aa00" text-anchor="start" textLength="28" lengthAdjust="spacingAndGlyphs" stroke="#00aa00" stroke-width="0.5" >0.5</text>
<text x="132.5" y="124.2" font-size="19" fill="#000" text-anchor="start" textLength="28" lengthAdjust="spacingAndGlyphs" stroke="#000" stroke-width="0.5" >0.5</text>
<text x="132.5" y="1291.9" font-size="19" fill="#00aa00" text-anchor="start" textLength="28" lengthAdjust="spacingAndGlyphs" stroke="#00aa00" stroke-width="0.5" >0.5</text>
<text x="132.5" y="1313.7" font-size="19" fill="#000" text-anchor="start" textLength="28" lengthAdjust="spacingAndGlyphs" stroke="#000" stroke-width="0.5" >0.5</text>
<text x="181.5" y="100.2" font-size="19" fill="#00aa00" text-anchor="start" textLength="26" lengthAdjust="spacingAndGlyphs" stroke="#00aa00" stroke-width="0.5" >1.0</text>
<text x="181.5" y="124.2" font-size="19" fill="#000" text-anchor="start" textLength="26" lengthAdjust="spacingAndGlyphs" stroke="#000" stroke-width="0.5" >1.0</text>
<text x="181.5" y="1291.9" font-size="19" fill="#00aa00" text-anchor="start" textLength="26" lengthAdjust="spacingAndGlyphs" stroke="#00aa00" stroke-width="0.5" >1.0</text>
<text x="181.5" y="1313.7" font-size="19" fill="#000" text-anchor="start" textLength="26" lengthAdjust="spacingAndGlyphs" stroke="#000" stroke-width="0.5" >1.0</text>
<text x="220.4" y="1291.9" font-size="19" fill="#00aa00" text-anchor="start" textLength="160.7" lengthAdjust="spacingAndGlyphs" stroke="#00aa00" stroke-width="0.5" >CloudWater (g/Kg)</text>
<text x="220.4" y="1313.7" font-size="19" fill="#000" text-anchor="start" textLength="192.3" lengthAdjust="spacingAndGlyphs" stroke="#000" stroke-width="0.5" >Grid-Scale Cloudiness</text>
<text x="79" y="114.1" font-size="27" fill="#000" text-anchor="end" textLength="43.8" lengthAdjust="spacingAndGlyphs" stroke="#000" stroke-width="0.9" >250</text>
<text x="79" y="265.1" font-size="27" fill="#000" text-anchor="end" textLength="43.8" lengthAdjust="spacingAndGlyphs" stroke="#000" stroke-width="0.9" >300</text>
<text x="79" y="504.1" font-size="27" fill="#000" text-anchor="end" textLength="43.8" lengthAdjust="spacingAndGlyphs" stroke="#000" stroke-width="0.9" >400</text>
<text x="79" y="689.1" font-size="27" fill="#000" text-anchor="end" textLength="43.8" lengthAdjust="spacingAndGlyphs" stroke="#000" stroke-width="0.9" >500</text>
<text x="79" y="968.1" font-size="27" fill="#000" text-anchor="end" textLength="43.8" lengthAdjust="spacingAndGlyphs" stroke="#000" stroke-width="0.9" >700</text>
<text x="79" y="1129.1" font-size="27" fill="#000" text-anchor="end" textLength="43.8" lengthAdjust="spacingAndGlyphs" stroke="#000" stroke-width="0.9" >850</text>
<text x="79" y="1263.1" font-size="27" fill="#000" text-anchor="end" textLength="58.4" lengthAdjust="spacingAndGlyphs" stroke="#000" stroke-width="0.9" >1000</text>
<text transform="translate(31,767) rotate(-90)" font-size="27" stroke="#000" stroke-width="0.5" textLength="78" lengthAdjust="spacingAndGlyphs">P (hPa)</text>
<text x="126.5" y="1347" font-size="27" fill="#000" text-anchor="start" textLength="37" lengthAdjust="spacingAndGlyphs" stroke="#000" stroke-width="0.9" >-30</text>
<path d="M146.5 1294 V1309" stroke="#000" stroke-width="1"/>
<text x="257.3" y="1347" font-size="27" fill="#000" text-anchor="start" textLength="37" lengthAdjust="spacingAndGlyphs" stroke="#000" stroke-width="0.9" >-20</text>
<path d="M277.5 1294 V1309" stroke="#000" stroke-width="1"/>
<text x="388.2" y="1347" font-size="27" fill="#000" text-anchor="start" textLength="37" lengthAdjust="spacingAndGlyphs" stroke="#000" stroke-width="0.9" >-10</text>
<path d="M408.5 1294 V1309" stroke="#000" stroke-width="1"/>
<text x="531.7" y="1347" font-size="27" fill="#000" text-anchor="start" textLength="13.6" lengthAdjust="spacingAndGlyphs" stroke="#000" stroke-width="0.9" >0</text>
<path d="M538.5 1294 V1309" stroke="#000" stroke-width="1"/>
<text x="655.7" y="1347" font-size="27" fill="#000" text-anchor="start" textLength="27.3" lengthAdjust="spacingAndGlyphs" stroke="#000" stroke-width="0.9" >10</text>
<path d="M669.5 1294 V1309" stroke="#000" stroke-width="1"/>
<text x="786.5" y="1347" font-size="27" fill="#000" text-anchor="start" textLength="27.3" lengthAdjust="spacingAndGlyphs" stroke="#000" stroke-width="0.9" >20</text>
<path d="M800.5 1294 V1309" stroke="#000" stroke-width="1"/>
<text x="917.4" y="1347" font-size="27" fill="#000" text-anchor="start" textLength="27.3" lengthAdjust="spacingAndGlyphs" stroke="#000" stroke-width="0.9" >30</text>
<path d="M931.5 1294 V1309" stroke="#000" stroke-width="1"/>
<text x="1048.2" y="1347" font-size="27" fill="#000" text-anchor="start" textLength="27.3" lengthAdjust="spacingAndGlyphs" stroke="#000" stroke-width="0.9" >40</text>
<path d="M1062.5 1294 V1309" stroke="#000" stroke-width="1"/>
<text x="604.2" y="1379.7" font-size="23.5" fill="#000" text-anchor="start" textLength="177" lengthAdjust="spacingAndGlyphs" stroke="#000" stroke-width="0.5" >Temperature (C)</text>
<text transform="translate(1239.6,589.4) rotate(90)" font-size="29" stroke="#000" stroke-width="0.5" textLength="220" lengthAdjust="spacingAndGlyphs">Height (1000 Feet)</text>
<text x="1136.8" y="125.5" font-size="19.5" fill="#00aa00" text-anchor="start" textLength="10.5" lengthAdjust="spacingAndGlyphs" stroke="#00aa00" stroke-width="0.9" >0</text>
<text x="1136.8" y="1292.5" font-size="19.5" fill="#00aa00" text-anchor="start" textLength="10.5" lengthAdjust="spacingAndGlyphs" stroke="#00aa00" stroke-width="0.9" >0</text>
<text x="1204" y="125.5" font-size="19.5" fill="#00aa00" text-anchor="start" textLength="21" lengthAdjust="spacingAndGlyphs" stroke="#00aa00" stroke-width="0.9" >20</text>
<text x="1204" y="1292.5" font-size="19.5" fill="#00aa00" text-anchor="start" textLength="21" lengthAdjust="spacingAndGlyphs" stroke="#00aa00" stroke-width="0.9" >20</text>
<text x="1277" y="125.5" font-size="19.5" fill="#00aa00" text-anchor="start" textLength="21" lengthAdjust="spacingAndGlyphs" stroke="#00aa00" stroke-width="0.9" >40</text>
<text x="1277" y="1292.5" font-size="19.5" fill="#00aa00" text-anchor="start" textLength="21" lengthAdjust="spacingAndGlyphs" stroke="#00aa00" stroke-width="0.9" >40</text>
<text x="1348.8" y="125.5" font-size="19.5" fill="#00aa00" text-anchor="start" textLength="21" lengthAdjust="spacingAndGlyphs" stroke="#00aa00" stroke-width="0.9" >60</text>
<text x="1348.8" y="1292.5" font-size="19.5" fill="#00aa00" text-anchor="start" textLength="21" lengthAdjust="spacingAndGlyphs" stroke="#00aa00" stroke-width="0.9" >60</text>
<text x="1172" y="1314" font-size="19" fill="#00aa00" text-anchor="start" textLength="90" lengthAdjust="spacingAndGlyphs" stroke="#00aa00" stroke-width="0.5" >Speed (kt)</text>
</g>
<path d="M1141.5 104 V1264.5" stroke="#000" stroke-width="1"/>
<path d="M1287 104 V1294.5" stroke="#000" stroke-width="2"/>
<g font-family="Liberation Sans, sans-serif">
<text x="1327.2" y="1273.7" font-size="26" fill="#000" text-anchor="start" textLength="14.8" lengthAdjust="spacingAndGlyphs" stroke="#000" stroke-width="0.9" >0</text>
<text x="1327.2" y="1213.3" font-size="26" fill="#000" text-anchor="start" textLength="14.8" lengthAdjust="spacingAndGlyphs" stroke="#000" stroke-width="0.9" >2</text>
<text x="1327.2" y="1152.1" font-size="26" fill="#000" text-anchor="start" textLength="14.8" lengthAdjust="spacingAndGlyphs" stroke="#000" stroke-width="0.9" >4</text>
<text x="1327.2" y="1090.1" font-size="26" fill="#000" text-anchor="start" textLength="14.8" lengthAdjust="spacingAndGlyphs" stroke="#000" stroke-width="0.9" >6</text>
<text x="1327.2" y="1027.1" font-size="26" fill="#000" text-anchor="start" textLength="14.8" lengthAdjust="spacingAndGlyphs" stroke="#000" stroke-width="0.9" >8</text>
<text x="1319.8" y="963.2" font-size="26" fill="#000" text-anchor="start" textLength="29.6" lengthAdjust="spacingAndGlyphs" stroke="#000" stroke-width="0.9" >10</text>
<text x="1319.8" y="898.4" font-size="26" fill="#000" text-anchor="start" textLength="29.6" lengthAdjust="spacingAndGlyphs" stroke="#000" stroke-width="0.9" >12</text>
<text x="1319.8" y="832.6" font-size="26" fill="#000" text-anchor="start" textLength="29.6" lengthAdjust="spacingAndGlyphs" stroke="#000" stroke-width="0.9" >14</text>
<text x="1319.8" y="765.7" font-size="26" fill="#000" text-anchor="start" textLength="29.6" lengthAdjust="spacingAndGlyphs" stroke="#000" stroke-width="0.9" >16</text>
<text x="1319.8" y="697.9" font-size="26" fill="#000" text-anchor="start" textLength="29.6" lengthAdjust="spacingAndGlyphs" stroke="#000" stroke-width="0.9" >18</text>
<text x="1319.8" y="628.9" font-size="26" fill="#000" text-anchor="start" textLength="29.6" lengthAdjust="spacingAndGlyphs" stroke="#000" stroke-width="0.9" >20</text>
<text x="1319.8" y="558.9" font-size="26" fill="#000" text-anchor="start" textLength="29.6" lengthAdjust="spacingAndGlyphs" stroke="#000" stroke-width="0.9" >22</text>
<text x="1319.8" y="487.7" font-size="26" fill="#000" text-anchor="start" textLength="29.6" lengthAdjust="spacingAndGlyphs" stroke="#000" stroke-width="0.9" >24</text>
<text x="1319.8" y="415.3" font-size="26" fill="#000" text-anchor="start" textLength="29.6" lengthAdjust="spacingAndGlyphs" stroke="#000" stroke-width="0.9" >26</text>
<text x="1319.8" y="341.7" font-size="26" fill="#000" text-anchor="start" textLength="29.6" lengthAdjust="spacingAndGlyphs" stroke="#000" stroke-width="0.9" >28</text>
<text x="1319.8" y="266.9" font-size="26" fill="#000" text-anchor="start" textLength="29.6" lengthAdjust="spacingAndGlyphs" stroke="#000" stroke-width="0.9" >30</text>
<text x="1319.8" y="190.7" font-size="26" fill="#000" text-anchor="start" textLength="29.6" lengthAdjust="spacingAndGlyphs" stroke="#000" stroke-width="0.9" >32</text>
</g>
<path d="M1287 1265.5 H1302 M1287 1204.5 H1302 M1287 1143.5 H1302 M1287 1081.5 H1302 M1287 1018.5 H1302 M1287 954.5 H1302 M1287 889.5 H1302 M1287 824.5 H1302 M1287 757.5 H1302 M1287 689.5 H1302 M1287 620.5 H1302 M1287 550.5 H1302 M1287 479.5 H1302 M1287 406.5 H1302 M1287 333.5 H1302 M1287 258.5 H1302 M1287 182.5 H1302" stroke="#000" stroke-width="1"/>
<path d="M1355.5 136.4 L1355.5 199.6 L1350.2 265 L1341.7 333 L1325.3 420 L1288 581.6 L1263.1 680 L1243.7 734.9 L1224.3 789.7 L1208.3 840 L1198.2 879.8 L1195.7 954.4 L1187.1 1000.6 L1186.5 1035.7 L1193 1094 L1197.4 1152.8 L1198.3 1211.4 L1194.5 1231.9 L1190 1238 L1179.8 1240.7" fill="none" stroke="#00bb00" stroke-width="1"/>
<path d="M1141.5 137.2 L1084.5 144.2 M1098.4 142.5 L1087.9 128.5 M1141.5 200 L1084.5 208 M1098.4 206.1 L1087.6 192.3 M1141.5 257.4 L1084.5 265.9 M1098.3 263.8 L1087.5 250.1 M1141.5 311.3 L1084.5 318.5 M1099.2 316.6 L1093.7 309.5 M1141.5 360.3 L1084.5 366 M1099.2 364.5 L1094 357.2 M1141.5 412 L1084.5 417 M1141.5 474.1 L1092.9 477.1 M1092.9 477.1 L1083.2 462.5 M1097.5 476.8 L1087.8 462.2 M1102.1 476.5 L1092.4 461.9 M1106.7 476.2 L1097 461.7 M1112.1 475.9 L1107.1 468.4 M1141.5 543.2 L1092.5 545.4 M1092.5 545.4 L1083.1 530.7 M1097.1 545.2 L1087.7 530.4 M1101.7 545 L1092.3 530.2 M1106.3 544.8 L1096.9 530 M1111.7 544.5 L1106.8 537 M1141.5 615.5 L1092.5 615.5 M1092.5 615.5 L1083.8 600.3 M1097.1 615.5 L1088.3 600.3 M1101.7 615.5 L1092.9 600.3 M1106.3 615.5 L1097.5 600.3 M1141.5 684 L1093 684 M1093 684 L1084.2 668.8 M1097.6 684 L1088.8 668.8 M1102.2 684 L1093.4 668.8 M1106.8 684 L1098 668.8 M1141.5 748.2 L1094.1 745 M1094.1 745 L1086.4 729.3 M1098.7 745.3 L1091 729.6 M1104.1 745.7 L1100.1 737.6 M1141.5 801.6 L1093.5 791.9 M1093.5 791.9 L1087.9 775.3 M1098 792.8 L1092.4 776.2 M1141.5 845.3 L1095.4 830.5 M1095.4 830.5 L1091.7 813.4 M1099.8 831.9 L1096.1 814.8 M1141.5 879.4 L1096.7 863.3 M1096.7 863.3 L1093.6 846.1 M1101.8 865.1 L1100.2 856.3 M1141.5 906.9 L1101.7 887.4 M1101.7 887.4 L1100.5 869.9 M1106.5 889.8 L1105.9 880.8 M1141.5 930.3 L1105.7 905.1 M1105.7 905.1 L1107.3 887.7 M1110.1 908.2 L1110.9 899.2 M1141.5 950.3 L1107.4 924.6 M1107.4 924.6 L1109.5 907.2 M1111.7 927.9 L1112.8 918.9 M1141.5 969.7 L1110 940 M1110 940 L1114 923 M1113.9 943.7 L1116 934.9 M1141.5 986.6 L1110 956.6 M1110 956.6 L1114.1 939.6 M1141.5 1003.7 L1105.7 970.7 M1105.7 970.7 L1109.5 953.6 M1141.5 1019.6 L1101.4 993.8 M1101.4 993.8 L1102.2 976.3 M1141.5 1035.4 L1096.3 1017 M1096.3 1017 L1093.9 999.7 M1141.5 1049.5 L1094.6 1037.1 M1094.6 1037.1 L1090 1020.2 M1099.8 1038.5 L1097.5 1029.8 M1141.5 1062.4 L1093.7 1053 M1093.7 1053 L1088 1036.4 M1099 1054 L1096.1 1045.5 M1141.5 1076.5 L1093.7 1067.1 M1093.7 1067.1 L1088 1050.5 M1099 1068.1 L1096.1 1059.6 M1141.5 1088 L1094 1078 M1094 1078 L1088.6 1061.4 M1099.3 1079.1 L1096.5 1070.6 M1141.5 1101 L1094 1091 M1094 1091 L1088.6 1074.4 M1099.3 1092.1 L1096.5 1083.6 M1141.5 1113 L1094 1103 M1094 1103 L1088.6 1086.4 M1099.3 1104.1 L1096.5 1095.6 M1141.5 1125.1 L1094 1115.1 M1094 1115.1 L1088.6 1098.5 M1099.3 1116.2 L1096.5 1107.7 M1141.5 1136.3 L1094 1126.3 M1094 1126.3 L1088.6 1109.7 M1099.3 1127.4 L1096.5 1118.9 M1141.5 1147.4 L1094 1137.4 M1094 1137.4 L1088.6 1120.8 M1099.3 1138.5 L1096.5 1130 M1141.5 1158.6 L1094 1148.6 M1094 1148.6 L1088.6 1132 M1099.3 1149.7 L1096.5 1141.2 M1141.5 1169.7 L1094 1159.7 M1094 1159.7 L1088.6 1143.1 M1099.3 1160.8 L1096.5 1152.3 M1141.5 1179.9 L1094 1169.9 M1094 1169.9 L1088.6 1153.3 M1099.3 1171 L1096.5 1162.5 M1141.5 1191 L1094 1181 M1094 1181 L1088.6 1164.4 M1099.3 1182.1 L1096.5 1173.6 M1141.5 1201.3 L1094 1191.2 M1094 1191.2 L1088.6 1174.5 M1099.3 1192.3 L1096.5 1183.7 M1141.5 1211.5 L1094 1200.3 M1094 1200.3 L1088.9 1183.6 M1099.3 1201.6 L1096.7 1193 M1141.5 1219.8 L1094 1207.8 M1094 1207.8 L1089.2 1191 M1099.2 1209.1 L1096.8 1200.5 M1141.5 1227.3 L1094 1214.6 M1094 1214.6 L1089.5 1197.7 M1099.2 1216 L1096.9 1207.3 M1141.5 1232.8 L1094 1219.5 M1094 1219.5 L1089.7 1202.6 M1099.2 1221 L1097 1212.3 M1141.5 1236.5 L1094 1222.8 M1094 1222.8 L1089.8 1205.9 M1099.2 1224.3 L1097 1215.6 M1141.5 1239.9 L1094 1225.9 M1094 1225.9 L1089.9 1208.9 M1099.2 1227.4 L1097.1 1218.7" fill="none" stroke="#000" stroke-width="1"/>
<path d="M1084.5 144.2 L1083 131.8 L1096.9 142.7 Z M1084.5 208 L1082.8 195.6 L1096.9 206.3 Z M1084.5 265.9 L1082.7 253.5 L1096.9 264.1 Z M1084.5 318.5 L1082.9 306.1 L1096.9 316.9 Z M1084.5 366 L1083.3 353.6 L1096.9 364.8 Z M1084.5 417 L1083.4 404.5 L1097 415.9 Z" fill="#000"/>
<text transform="translate(112,247.5) rotate(56)" x="0" y="6.6" font-size="19" fill="#ffaa00" text-anchor="middle" stroke="#fff" stroke-width="0.35" font-family="Liberation Sans, sans-serif" textLength="24" lengthAdjust="spacingAndGlyphs">10</text>
<text transform="translate(113.5,480) rotate(56)" x="0" y="6.6" font-size="19" fill="#ffaa00" text-anchor="middle" stroke="#fff" stroke-width="0.35" font-family="Liberation Sans, sans-serif">0</text>
<text transform="translate(113,710) rotate(56)" x="0" y="6.6" font-size="19" fill="#ffaa00" text-anchor="middle" stroke="#fff" stroke-width="0.35" font-family="Liberation Sans, sans-serif" textLength="36" lengthAdjust="spacingAndGlyphs">-10</text>
<text transform="translate(111,931) rotate(56)" x="0" y="6.6" font-size="19" fill="#ffaa00" text-anchor="middle" stroke="#fff" stroke-width="0.35" font-family="Liberation Sans, sans-serif" textLength="36" lengthAdjust="spacingAndGlyphs">-20</text>
<text transform="translate(110,1155) rotate(56)" x="0" y="6.6" font-size="19" fill="#ffaa00" text-anchor="middle" stroke="#fff" stroke-width="0.35" font-family="Liberation Sans, sans-serif" textLength="36" lengthAdjust="spacingAndGlyphs">-30</text>
<text transform="translate(1024.9,340.6) rotate(-50)" x="0" y="8" font-size="23" fill="#ffaa00" text-anchor="middle" stroke="#fff" stroke-width="0.35" font-family="Liberation Sans, sans-serif">0</text>
<text transform="translate(1059.1,531.7) rotate(-50)" x="0" y="8" font-size="23" fill="#ffaa00" text-anchor="middle" stroke="#fff" stroke-width="0.35" font-family="Liberation Sans, sans-serif" textLength="36" lengthAdjust="spacingAndGlyphs">10</text>
<text transform="translate(1126.5,656.7) rotate(-50)" x="0" y="8" font-size="23" fill="#ffaa00" text-anchor="middle" stroke="#fff" stroke-width="0.35" font-family="Liberation Sans, sans-serif" textLength="36" lengthAdjust="spacingAndGlyphs">20</text>
<text transform="translate(1195,778.4) rotate(-50)" x="0" y="8" font-size="23" fill="#ffaa00" text-anchor="middle" stroke="#fff" stroke-width="0.35" font-family="Liberation Sans, sans-serif" textLength="36" lengthAdjust="spacingAndGlyphs">30</text>
<text transform="translate(330,1272.5) rotate(-67)" x="0" y="7" font-size="20" fill="#88dd00" text-anchor="middle" stroke="#fff" stroke-width="0.35" font-family="Liberation Sans, sans-serif">1</text>
<text transform="translate(440.6,1273) rotate(-67)" x="0" y="7" font-size="20" fill="#88dd00" text-anchor="middle" stroke="#fff" stroke-width="0.35" font-family="Liberation Sans, sans-serif">2</text>
<text transform="translate(509.2,1273) rotate(-67)" x="0" y="7" font-size="20" fill="#88dd00" text-anchor="middle" stroke="#fff" stroke-width="0.35" font-family="Liberation Sans, sans-serif">3</text>
<text transform="translate(600.6,1273) rotate(-67)" x="0" y="7" font-size="20" fill="#88dd00" text-anchor="middle" stroke="#fff" stroke-width="0.35" font-family="Liberation Sans, sans-serif">5</text>
<text transform="translate(690.7,1274) rotate(-67)" x="0" y="7" font-size="20" fill="#88dd00" text-anchor="middle" stroke="#fff" stroke-width="0.35" font-family="Liberation Sans, sans-serif">8</text>
<text transform="translate(771.1,1272.8) rotate(-67)" x="0" y="7" font-size="20" fill="#88dd00" text-anchor="middle" stroke="#fff" stroke-width="0.35" font-family="Liberation Sans, sans-serif" textLength="24" lengthAdjust="spacingAndGlyphs">12</text>
<text transform="translate(876.6,1273.4) rotate(-67)" x="0" y="7" font-size="20" fill="#88dd00" text-anchor="middle" stroke="#fff" stroke-width="0.35" font-family="Liberation Sans, sans-serif" textLength="24" lengthAdjust="spacingAndGlyphs">20</text>
</svg></body></html>
